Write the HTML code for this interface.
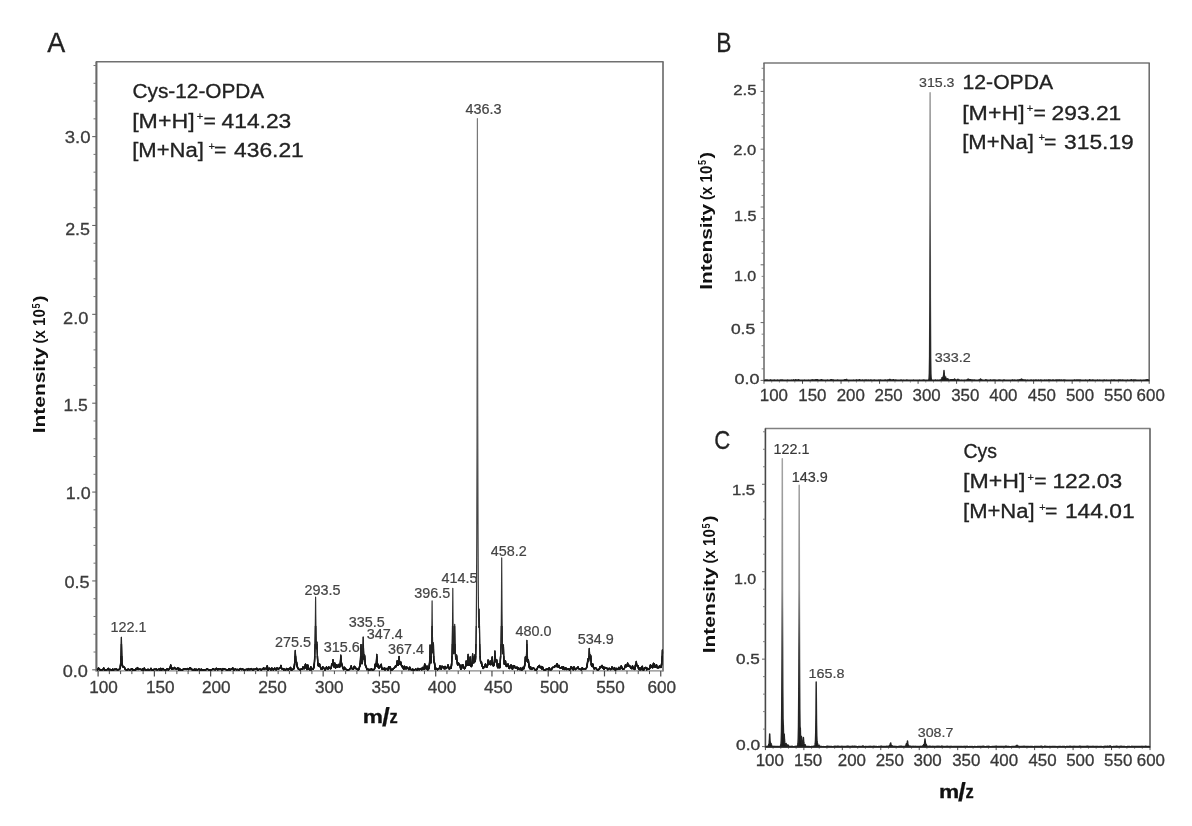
<!DOCTYPE html>
<html lang="en"><head><meta charset="utf-8"><title>Mass spectra</title>
<style>html,body{margin:0;padding:0;background:#fff}svg{display:block}text{white-space:pre}</style>
</head><body>
<svg width="1192" height="826" viewBox="0 0 1192 826" font-family='"Liberation Sans", sans-serif'>
<rect width="1192" height="826" fill="#fff"/>
<line x1="95.80" y1="61.70" x2="663.60" y2="61.70" stroke="#707070" stroke-width="1.6"/>
<line x1="96.40" y1="61.70" x2="96.40" y2="671.50" stroke="#6a6a6a" stroke-width="2.1"/>
<line x1="663.00" y1="61.70" x2="663.00" y2="671.50" stroke="#707070" stroke-width="1.7"/>
<line x1="96.40" y1="670.90" x2="663.00" y2="670.90" stroke="#888" stroke-width="1.1"/>
<line x1="92.20" y1="669.80" x2="96.40" y2="669.80" stroke="#666" stroke-width="1.1"/>
<line x1="93.50" y1="652.03" x2="96.40" y2="652.03" stroke="#777" stroke-width="1.0"/>
<line x1="93.50" y1="634.25" x2="96.40" y2="634.25" stroke="#777" stroke-width="1.0"/>
<line x1="93.50" y1="616.48" x2="96.40" y2="616.48" stroke="#777" stroke-width="1.0"/>
<line x1="93.50" y1="598.71" x2="96.40" y2="598.71" stroke="#777" stroke-width="1.0"/>
<line x1="92.20" y1="580.93" x2="96.40" y2="580.93" stroke="#666" stroke-width="1.1"/>
<line x1="93.50" y1="563.16" x2="96.40" y2="563.16" stroke="#777" stroke-width="1.0"/>
<line x1="93.50" y1="545.39" x2="96.40" y2="545.39" stroke="#777" stroke-width="1.0"/>
<line x1="93.50" y1="527.62" x2="96.40" y2="527.62" stroke="#777" stroke-width="1.0"/>
<line x1="93.50" y1="509.84" x2="96.40" y2="509.84" stroke="#777" stroke-width="1.0"/>
<line x1="92.20" y1="492.07" x2="96.40" y2="492.07" stroke="#666" stroke-width="1.1"/>
<line x1="93.50" y1="474.30" x2="96.40" y2="474.30" stroke="#777" stroke-width="1.0"/>
<line x1="93.50" y1="456.52" x2="96.40" y2="456.52" stroke="#777" stroke-width="1.0"/>
<line x1="93.50" y1="438.75" x2="96.40" y2="438.75" stroke="#777" stroke-width="1.0"/>
<line x1="93.50" y1="420.98" x2="96.40" y2="420.98" stroke="#777" stroke-width="1.0"/>
<line x1="92.20" y1="403.20" x2="96.40" y2="403.20" stroke="#666" stroke-width="1.1"/>
<line x1="93.50" y1="385.43" x2="96.40" y2="385.43" stroke="#777" stroke-width="1.0"/>
<line x1="93.50" y1="367.66" x2="96.40" y2="367.66" stroke="#777" stroke-width="1.0"/>
<line x1="93.50" y1="349.89" x2="96.40" y2="349.89" stroke="#777" stroke-width="1.0"/>
<line x1="93.50" y1="332.11" x2="96.40" y2="332.11" stroke="#777" stroke-width="1.0"/>
<line x1="92.20" y1="314.34" x2="96.40" y2="314.34" stroke="#666" stroke-width="1.1"/>
<line x1="93.50" y1="296.57" x2="96.40" y2="296.57" stroke="#777" stroke-width="1.0"/>
<line x1="93.50" y1="278.79" x2="96.40" y2="278.79" stroke="#777" stroke-width="1.0"/>
<line x1="93.50" y1="261.02" x2="96.40" y2="261.02" stroke="#777" stroke-width="1.0"/>
<line x1="93.50" y1="243.25" x2="96.40" y2="243.25" stroke="#777" stroke-width="1.0"/>
<line x1="92.20" y1="225.47" x2="96.40" y2="225.47" stroke="#666" stroke-width="1.1"/>
<line x1="93.50" y1="207.70" x2="96.40" y2="207.70" stroke="#777" stroke-width="1.0"/>
<line x1="93.50" y1="189.93" x2="96.40" y2="189.93" stroke="#777" stroke-width="1.0"/>
<line x1="93.50" y1="172.16" x2="96.40" y2="172.16" stroke="#777" stroke-width="1.0"/>
<line x1="93.50" y1="154.38" x2="96.40" y2="154.38" stroke="#777" stroke-width="1.0"/>
<line x1="92.20" y1="136.61" x2="96.40" y2="136.61" stroke="#666" stroke-width="1.1"/>
<line x1="93.50" y1="118.84" x2="96.40" y2="118.84" stroke="#777" stroke-width="1.0"/>
<line x1="93.50" y1="101.06" x2="96.40" y2="101.06" stroke="#777" stroke-width="1.0"/>
<line x1="93.50" y1="83.29" x2="96.40" y2="83.29" stroke="#777" stroke-width="1.0"/>
<line x1="93.50" y1="65.52" x2="96.40" y2="65.52" stroke="#777" stroke-width="1.0"/>
<text x="64.8" y="143.2" font-size="16.3" textLength="25.8" lengthAdjust="spacingAndGlyphs" fill="#3c3c3c" stroke="#3c3c3c" stroke-width="0.3">3.0</text>
<text x="65.2" y="234.7" font-size="16.3" textLength="24.8" lengthAdjust="spacingAndGlyphs" fill="#3c3c3c" stroke="#3c3c3c" stroke-width="0.3">2.5</text>
<text x="63.1" y="324.4" font-size="16.3" textLength="25.4" lengthAdjust="spacingAndGlyphs" fill="#3c3c3c" stroke="#3c3c3c" stroke-width="0.3">2.0</text>
<text x="63.4" y="411.1" font-size="16.3" textLength="24.4" lengthAdjust="spacingAndGlyphs" fill="#3c3c3c" stroke="#3c3c3c" stroke-width="0.3">1.5</text>
<text x="65.8" y="499.0" font-size="16.3" textLength="24.8" lengthAdjust="spacingAndGlyphs" fill="#3c3c3c" stroke="#3c3c3c" stroke-width="0.3">1.0</text>
<text x="64.4" y="588.2" font-size="16.3" textLength="25.2" lengthAdjust="spacingAndGlyphs" fill="#3c3c3c" stroke="#3c3c3c" stroke-width="0.3">0.5</text>
<text x="62.7" y="676.6" font-size="16.3" textLength="25.2" lengthAdjust="spacingAndGlyphs" fill="#3c3c3c" stroke="#3c3c3c" stroke-width="0.3">0.0</text>
<line x1="98.10" y1="670.90" x2="98.10" y2="676.40" stroke="#4a4a4a" stroke-width="1.2"/>
<line x1="109.35" y1="670.90" x2="109.35" y2="674.10" stroke="#4a4a4a" stroke-width="1.0"/>
<line x1="120.61" y1="670.90" x2="120.61" y2="674.10" stroke="#4a4a4a" stroke-width="1.0"/>
<line x1="131.86" y1="670.90" x2="131.86" y2="674.10" stroke="#4a4a4a" stroke-width="1.0"/>
<line x1="143.11" y1="670.90" x2="143.11" y2="674.10" stroke="#4a4a4a" stroke-width="1.0"/>
<line x1="154.37" y1="670.90" x2="154.37" y2="676.40" stroke="#4a4a4a" stroke-width="1.2"/>
<line x1="165.62" y1="670.90" x2="165.62" y2="674.10" stroke="#4a4a4a" stroke-width="1.0"/>
<line x1="176.87" y1="670.90" x2="176.87" y2="674.10" stroke="#4a4a4a" stroke-width="1.0"/>
<line x1="188.12" y1="670.90" x2="188.12" y2="674.10" stroke="#4a4a4a" stroke-width="1.0"/>
<line x1="199.38" y1="670.90" x2="199.38" y2="674.10" stroke="#4a4a4a" stroke-width="1.0"/>
<line x1="210.63" y1="670.90" x2="210.63" y2="676.40" stroke="#4a4a4a" stroke-width="1.2"/>
<line x1="221.88" y1="670.90" x2="221.88" y2="674.10" stroke="#4a4a4a" stroke-width="1.0"/>
<line x1="233.14" y1="670.90" x2="233.14" y2="674.10" stroke="#4a4a4a" stroke-width="1.0"/>
<line x1="244.39" y1="670.90" x2="244.39" y2="674.10" stroke="#4a4a4a" stroke-width="1.0"/>
<line x1="255.64" y1="670.90" x2="255.64" y2="674.10" stroke="#4a4a4a" stroke-width="1.0"/>
<line x1="266.89" y1="670.90" x2="266.89" y2="676.40" stroke="#4a4a4a" stroke-width="1.2"/>
<line x1="278.15" y1="670.90" x2="278.15" y2="674.10" stroke="#4a4a4a" stroke-width="1.0"/>
<line x1="289.40" y1="670.90" x2="289.40" y2="674.10" stroke="#4a4a4a" stroke-width="1.0"/>
<line x1="300.65" y1="670.90" x2="300.65" y2="674.10" stroke="#4a4a4a" stroke-width="1.0"/>
<line x1="311.91" y1="670.90" x2="311.91" y2="674.10" stroke="#4a4a4a" stroke-width="1.0"/>
<line x1="323.16" y1="670.90" x2="323.16" y2="676.40" stroke="#4a4a4a" stroke-width="1.2"/>
<line x1="334.41" y1="670.90" x2="334.41" y2="674.10" stroke="#4a4a4a" stroke-width="1.0"/>
<line x1="345.67" y1="670.90" x2="345.67" y2="674.10" stroke="#4a4a4a" stroke-width="1.0"/>
<line x1="356.92" y1="670.90" x2="356.92" y2="674.10" stroke="#4a4a4a" stroke-width="1.0"/>
<line x1="368.17" y1="670.90" x2="368.17" y2="674.10" stroke="#4a4a4a" stroke-width="1.0"/>
<line x1="379.42" y1="670.90" x2="379.42" y2="676.40" stroke="#4a4a4a" stroke-width="1.2"/>
<line x1="390.68" y1="670.90" x2="390.68" y2="674.10" stroke="#4a4a4a" stroke-width="1.0"/>
<line x1="401.93" y1="670.90" x2="401.93" y2="674.10" stroke="#4a4a4a" stroke-width="1.0"/>
<line x1="413.18" y1="670.90" x2="413.18" y2="674.10" stroke="#4a4a4a" stroke-width="1.0"/>
<line x1="424.44" y1="670.90" x2="424.44" y2="674.10" stroke="#4a4a4a" stroke-width="1.0"/>
<line x1="435.69" y1="670.90" x2="435.69" y2="676.40" stroke="#4a4a4a" stroke-width="1.2"/>
<line x1="446.94" y1="670.90" x2="446.94" y2="674.10" stroke="#4a4a4a" stroke-width="1.0"/>
<line x1="458.20" y1="670.90" x2="458.20" y2="674.10" stroke="#4a4a4a" stroke-width="1.0"/>
<line x1="469.45" y1="670.90" x2="469.45" y2="674.10" stroke="#4a4a4a" stroke-width="1.0"/>
<line x1="480.70" y1="670.90" x2="480.70" y2="674.10" stroke="#4a4a4a" stroke-width="1.0"/>
<line x1="491.96" y1="670.90" x2="491.96" y2="676.40" stroke="#4a4a4a" stroke-width="1.2"/>
<line x1="503.21" y1="670.90" x2="503.21" y2="674.10" stroke="#4a4a4a" stroke-width="1.0"/>
<line x1="514.46" y1="670.90" x2="514.46" y2="674.10" stroke="#4a4a4a" stroke-width="1.0"/>
<line x1="525.71" y1="670.90" x2="525.71" y2="674.10" stroke="#4a4a4a" stroke-width="1.0"/>
<line x1="536.97" y1="670.90" x2="536.97" y2="674.10" stroke="#4a4a4a" stroke-width="1.0"/>
<line x1="548.22" y1="670.90" x2="548.22" y2="676.40" stroke="#4a4a4a" stroke-width="1.2"/>
<line x1="559.47" y1="670.90" x2="559.47" y2="674.10" stroke="#4a4a4a" stroke-width="1.0"/>
<line x1="570.73" y1="670.90" x2="570.73" y2="674.10" stroke="#4a4a4a" stroke-width="1.0"/>
<line x1="581.98" y1="670.90" x2="581.98" y2="674.10" stroke="#4a4a4a" stroke-width="1.0"/>
<line x1="593.23" y1="670.90" x2="593.23" y2="674.10" stroke="#4a4a4a" stroke-width="1.0"/>
<line x1="604.49" y1="670.90" x2="604.49" y2="676.40" stroke="#4a4a4a" stroke-width="1.2"/>
<line x1="615.74" y1="670.90" x2="615.74" y2="674.10" stroke="#4a4a4a" stroke-width="1.0"/>
<line x1="626.99" y1="670.90" x2="626.99" y2="674.10" stroke="#4a4a4a" stroke-width="1.0"/>
<line x1="638.24" y1="670.90" x2="638.24" y2="674.10" stroke="#4a4a4a" stroke-width="1.0"/>
<line x1="649.50" y1="670.90" x2="649.50" y2="674.10" stroke="#4a4a4a" stroke-width="1.0"/>
<line x1="660.75" y1="670.90" x2="660.75" y2="676.40" stroke="#4a4a4a" stroke-width="1.2"/>
<text x="89.2" y="692.8" font-size="16.0" textLength="28.6" lengthAdjust="spacingAndGlyphs" fill="#3c3c3c" stroke="#3c3c3c" stroke-width="0.3">100</text>
<text x="145.9" y="692.8" font-size="16.0" textLength="28.6" lengthAdjust="spacingAndGlyphs" fill="#3c3c3c" stroke="#3c3c3c" stroke-width="0.3">150</text>
<text x="201.9" y="692.8" font-size="16.0" textLength="28.6" lengthAdjust="spacingAndGlyphs" fill="#3c3c3c" stroke="#3c3c3c" stroke-width="0.3">200</text>
<text x="258.2" y="692.8" font-size="16.0" textLength="28.6" lengthAdjust="spacingAndGlyphs" fill="#3c3c3c" stroke="#3c3c3c" stroke-width="0.3">250</text>
<text x="315.0" y="692.8" font-size="16.0" textLength="28.6" lengthAdjust="spacingAndGlyphs" fill="#3c3c3c" stroke="#3c3c3c" stroke-width="0.3">300</text>
<text x="371.6" y="692.8" font-size="16.0" textLength="28.6" lengthAdjust="spacingAndGlyphs" fill="#3c3c3c" stroke="#3c3c3c" stroke-width="0.3">350</text>
<text x="427.7" y="692.8" font-size="16.0" textLength="28.6" lengthAdjust="spacingAndGlyphs" fill="#3c3c3c" stroke="#3c3c3c" stroke-width="0.3">400</text>
<text x="484.0" y="692.8" font-size="16.0" textLength="28.6" lengthAdjust="spacingAndGlyphs" fill="#3c3c3c" stroke="#3c3c3c" stroke-width="0.3">450</text>
<text x="540.0" y="692.8" font-size="16.0" textLength="28.6" lengthAdjust="spacingAndGlyphs" fill="#3c3c3c" stroke="#3c3c3c" stroke-width="0.3">500</text>
<text x="596.2" y="692.8" font-size="16.0" textLength="28.6" lengthAdjust="spacingAndGlyphs" fill="#3c3c3c" stroke="#3c3c3c" stroke-width="0.3">550</text>
<text x="647.4" y="692.8" font-size="16.0" textLength="28.6" lengthAdjust="spacingAndGlyphs" fill="#3c3c3c" stroke="#3c3c3c" stroke-width="0.3">600</text>
<text fill="#111" font-weight="bold"><tspan x="362.8" y="722.5" font-size="19" textLength="20.2" lengthAdjust="spacingAndGlyphs" stroke="#111" stroke-width="0.3">m</tspan><tspan x="381.9" y="725.7" font-size="25.5" textLength="7.8" lengthAdjust="spacingAndGlyphs" stroke="#111" stroke-width="0.2">/</tspan><tspan x="389.4" y="722.5" font-size="19" textLength="8.2" lengthAdjust="spacingAndGlyphs" stroke="#111" stroke-width="0.3">z</tspan></text>
<text fill="#111" font-weight="bold" transform="translate(45.4,433.6) rotate(-90)"><tspan x="0.3" y="0.0" font-size="17.4" textLength="86.0" lengthAdjust="spacingAndGlyphs">Intensity</tspan><tspan font-size="4"> </tspan><tspan x="90.2" y="0.0" font-size="17.4" textLength="34.2" lengthAdjust="spacingAndGlyphs">(x 10</tspan><tspan x="125.2" y="-5.6" font-size="10.5" textLength="5.0" lengthAdjust="spacingAndGlyphs">5</tspan><tspan x="131.6" y="0.0" font-size="17.4" textLength="6.6" lengthAdjust="spacingAndGlyphs">)</tspan></text>
<text x="47.2" y="52.3" font-size="28" textLength="18.0" lengthAdjust="spacingAndGlyphs" fill="#222" stroke="#222" stroke-width="0.3">A</text>
<text x="132.6" y="98.3" font-size="20.0" textLength="131.6" lengthAdjust="spacingAndGlyphs" fill="#222" stroke="#222" stroke-width="0.3">Cys-12-OPDA</text>
<text fill="#222"><tspan x="132.2" y="127.7" font-size="20.0" textLength="62.4" lengthAdjust="spacingAndGlyphs" stroke="#222" stroke-width="0.3">[M+H]</tspan><tspan x="196.7" y="120.3" font-size="10" textLength="6.4" lengthAdjust="spacingAndGlyphs" stroke="#222" stroke-width="0.2">+</tspan><tspan x="203.4" y="127.7" font-size="20.0" textLength="12.4" lengthAdjust="spacingAndGlyphs" stroke="#222" stroke-width="0.3">=</tspan><tspan font-size="4"> </tspan><tspan x="221.6" y="127.7" font-size="20.0" textLength="69.7" lengthAdjust="spacingAndGlyphs" stroke="#222" stroke-width="0.3">414.23</tspan></text>
<text fill="#222"><tspan x="132.2" y="157.0" font-size="20.0" textLength="71.7" lengthAdjust="spacingAndGlyphs" stroke="#222" stroke-width="0.3">[M+Na]</tspan><tspan x="208.4" y="149.6" font-size="10" textLength="6.4" lengthAdjust="spacingAndGlyphs" stroke="#222" stroke-width="0.2">+</tspan><tspan x="214.1" y="157.0" font-size="20.0" textLength="12.4" lengthAdjust="spacingAndGlyphs" stroke="#222" stroke-width="0.3">=</tspan><tspan font-size="4"> </tspan><tspan x="234.1" y="157.0" font-size="20.0" textLength="69.7" lengthAdjust="spacingAndGlyphs" stroke="#222" stroke-width="0.3">436.21</tspan></text>
<defs><linearGradient id="gA" gradientUnits="userSpaceOnUse" x1="0" y1="118" x2="0" y2="672"><stop offset="0.000" stop-color="#7a7a7a"/><stop offset="0.599" stop-color="#555"/><stop offset="0.870" stop-color="#333"/><stop offset="0.942" stop-color="#222"/><stop offset="1.000" stop-color="#1c1c1c"/></linearGradient></defs>
<defs><path id="tr7" d="M97.00,669.93 L97.25,669.87 L97.50,669.81 L97.75,669.75 L98.00,669.22 L98.25,668.68 L98.50,668.14 L98.75,668.33 L99.00,668.51 L99.25,668.70 L99.50,669.08 L99.75,669.45 L100.00,669.83 L100.25,669.88 L100.50,669.93 L100.75,669.97 L101.00,669.90 L101.25,669.83 L101.50,669.76 L101.75,669.76 L102.00,669.76 L102.25,669.76 L102.50,669.68 L102.75,669.59 L103.00,669.50 L103.25,669.04 L103.50,668.58 L103.75,668.12 L104.00,668.75 L104.25,669.38 L104.50,670.01 L104.75,669.92 L105.00,669.83 L105.25,669.73 L105.50,669.80 L105.75,669.86 L106.00,669.93 L106.25,669.86 L106.50,669.78 L106.75,669.71 L107.00,669.64 L107.25,669.58 L107.50,669.51 L107.75,669.16 L108.00,668.80 L108.25,668.45 L108.50,668.90 L108.75,669.35 L109.00,669.80 L109.25,669.68 L109.50,669.57 L109.75,669.45 L110.00,669.49 L110.25,669.52 L110.50,669.55 L110.75,669.68 L111.00,669.81 L111.25,669.93 L111.50,669.98 L111.75,670.02 L112.00,670.07 L112.25,669.78 L112.50,669.50 L112.75,669.22 L113.00,669.49 L113.25,669.76 L113.50,670.03 L113.75,669.87 L114.00,669.71 L114.25,669.55 L114.50,669.40 L114.75,669.26 L115.00,669.11 L115.25,669.25 L115.50,669.40 L115.75,669.54 L116.00,669.40 L116.25,669.27 L116.50,669.13 L116.75,669.37 L117.00,669.61 L117.25,669.85 L117.50,669.79 L117.75,669.74 L118.00,669.67 L118.25,669.67 L118.50,669.65 L118.75,669.62 L119.00,669.50 L119.25,669.33 L119.50,669.09 L119.75,668.90 L120.00,668.48 L120.25,667.63 L120.50,665.72 L120.75,662.43 L121.00,656.64 L121.25,646.81 L121.40,637.30 L121.50,644.19 L121.75,655.75 L122.00,661.53 L122.25,664.47 L122.50,665.80 L122.75,666.42 L122.90,666.50 L123.00,666.75 L123.25,667.11 L123.50,667.25 L123.75,667.22 L124.00,667.06 L124.25,667.34 L124.50,667.50 L124.75,668.36 L125.00,668.82 L125.25,669.19 L125.50,669.51 L125.75,669.63 L126.00,669.72 L126.25,669.78 L126.50,669.87 L126.75,669.95 L127.00,670.03 L127.25,669.82 L127.50,669.62 L127.75,669.40 L128.00,669.36 L128.25,669.32 L128.50,669.28 L128.75,669.46 L129.00,669.65 L129.25,669.83 L129.50,669.80 L129.75,669.77 L130.00,669.74 L130.25,669.72 L130.50,669.71 L130.75,669.69 L131.00,669.40 L131.25,669.12 L131.50,668.83 L131.75,668.88 L132.00,668.92 L132.25,668.97 L132.50,669.33 L132.75,669.69 L133.00,670.04 L133.25,669.90 L133.50,669.76 L133.75,669.61 L134.00,669.77 L134.25,669.93 L134.50,670.10 L134.75,670.08 L135.00,670.06 L135.25,670.04 L135.50,669.55 L135.75,669.06 L136.00,668.57 L136.25,668.86 L136.50,669.14 L136.75,669.42 L137.00,668.83 L137.25,668.24 L137.50,667.65 L137.75,668.24 L138.00,668.83 L138.25,669.42 L138.50,669.36 L138.75,669.31 L139.00,669.25 L139.25,669.25 L139.50,669.25 L139.75,669.24 L140.00,669.28 L140.25,669.31 L140.50,669.34 L140.75,669.40 L141.00,669.46 L141.25,669.52 L141.50,669.68 L141.75,669.84 L142.00,670.00 L142.25,669.62 L142.50,669.24 L142.75,668.87 L143.00,669.22 L143.25,669.57 L143.50,669.92 L143.75,669.33 L144.00,668.75 L144.25,668.17 L144.50,668.71 L144.75,669.26 L145.00,669.81 L145.25,669.82 L145.50,669.84 L145.75,669.85 L146.00,669.86 L146.25,669.86 L146.50,669.87 L146.75,669.86 L147.00,669.85 L147.25,669.84 L147.50,669.67 L147.75,669.51 L148.00,669.34 L148.25,669.54 L148.50,669.74 L148.75,669.94 L149.00,669.89 L149.25,669.85 L149.50,669.81 L149.75,669.76 L150.00,669.71 L150.25,669.66 L150.50,669.26 L150.75,668.86 L151.00,668.46 L151.25,668.93 L151.50,669.39 L151.75,669.86 L152.00,669.89 L152.25,669.92 L152.50,669.95 L152.75,669.98 L153.00,670.02 L153.25,670.06 L153.50,669.84 L153.75,669.63 L154.00,669.42 L154.25,669.38 L154.50,669.35 L154.75,669.31 L155.00,669.38 L155.25,669.45 L155.50,669.52 L155.75,669.38 L156.00,669.24 L156.25,669.09 L156.50,669.35 L156.75,669.61 L157.00,669.87 L157.25,669.81 L157.50,669.74 L157.75,669.68 L158.00,669.57 L158.25,669.47 L158.50,669.37 L158.75,669.28 L159.00,669.20 L159.25,669.12 L159.50,669.41 L159.75,669.70 L160.00,669.98 L160.25,669.46 L160.50,668.94 L160.75,668.42 L161.00,668.95 L161.25,669.48 L161.50,670.00 L161.75,669.86 L162.00,669.73 L162.25,669.59 L162.50,669.26 L162.75,668.93 L163.00,668.60 L163.25,668.93 L163.50,669.26 L163.75,669.58 L164.00,669.65 L164.25,669.72 L164.50,669.79 L164.75,669.77 L165.00,669.76 L165.25,669.74 L165.50,669.77 L165.75,669.80 L166.00,669.83 L166.25,669.62 L166.50,669.41 L166.75,669.19 L167.00,669.17 L167.25,669.14 L167.50,669.12 L167.75,669.40 L168.00,669.67 L168.25,669.94 L168.50,669.70 L168.75,669.44 L169.00,669.16 L169.25,668.90 L169.50,668.58 L169.75,668.15 L170.00,667.97 L170.25,667.50 L170.50,666.55 L170.70,665.10 L170.75,665.57 L171.00,667.35 L171.25,668.48 L171.50,668.92 L171.75,669.11 L172.00,669.16 L172.25,668.89 L172.50,668.57 L172.75,668.20 L173.00,668.40 L173.25,668.56 L173.50,668.67 L173.75,668.69 L174.00,668.61 L174.25,668.37 L174.50,667.50 L174.75,668.04 L175.00,668.34 L175.25,668.54 L175.50,668.63 L175.75,668.65 L176.00,668.84 L176.25,669.01 L176.50,669.15 L176.75,668.91 L177.00,668.66 L177.25,668.40 L177.50,668.26 L177.75,668.12 L178.00,667.98 L178.25,668.65 L178.50,669.32 L178.75,669.99 L179.00,669.51 L179.25,669.03 L179.50,668.55 L179.75,668.98 L180.00,669.41 L180.25,669.84 L180.50,669.85 L180.75,669.87 L181.00,669.89 L181.25,669.82 L181.50,669.75 L181.75,669.69 L182.00,669.81 L182.25,669.93 L182.50,670.05 L182.75,669.77 L183.00,669.48 L183.25,669.20 L183.50,669.17 L183.75,669.13 L184.00,669.09 L184.25,669.06 L184.50,669.04 L184.75,669.01 L185.00,668.95 L185.25,668.88 L185.50,668.82 L185.75,668.99 L186.00,669.16 L186.25,669.33 L186.50,669.29 L186.75,669.23 L187.00,669.18 L187.25,668.99 L187.50,668.80 L187.75,668.59 L188.00,668.92 L188.25,669.22 L188.50,669.47 L188.75,669.24 L189.00,668.93 L189.20,668.60 L189.25,668.65 L189.50,668.46 L189.75,668.16 L190.00,667.73 L190.25,667.82 L190.40,667.80 L190.50,668.12 L190.75,668.82 L191.00,668.89 L191.25,668.88 L191.50,668.82 L191.75,669.18 L192.00,669.52 L192.25,669.83 L192.50,669.75 L192.75,669.66 L193.00,669.56 L193.25,669.67 L193.50,669.78 L193.75,669.89 L194.00,669.67 L194.25,669.45 L194.50,669.22 L194.75,669.50 L195.00,669.78 L195.25,670.05 L195.50,669.78 L195.75,669.50 L196.00,669.23 L196.25,669.41 L196.50,669.59 L196.75,669.77 L197.00,669.80 L197.25,669.82 L197.50,669.84 L197.75,669.69 L198.00,669.55 L198.25,669.41 L198.50,669.31 L198.75,669.22 L199.00,669.12 L199.25,669.32 L199.50,669.52 L199.75,669.72 L200.00,669.83 L200.25,669.94 L200.50,670.05 L200.75,669.78 L201.00,669.51 L201.25,669.24 L201.50,669.45 L201.75,669.66 L202.00,669.88 L202.25,669.86 L202.50,669.85 L202.75,669.84 L203.00,669.92 L203.25,670.00 L203.50,670.08 L203.75,670.00 L204.00,669.92 L204.25,669.84 L204.50,669.82 L204.75,669.80 L205.00,669.79 L205.25,669.81 L205.50,669.84 L205.75,669.86 L206.00,669.65 L206.25,669.44 L206.50,669.23 L206.75,669.16 L207.00,669.08 L207.25,669.01 L207.50,669.15 L207.75,669.30 L208.00,669.45 L208.25,669.60 L208.50,669.75 L208.75,669.90 L209.00,669.90 L209.25,669.90 L209.50,669.90 L209.75,669.85 L210.00,669.80 L210.25,669.75 L210.50,669.79 L210.75,669.83 L211.00,669.86 L211.25,669.82 L211.50,669.77 L211.75,669.72 L212.00,669.56 L212.25,669.41 L212.50,669.25 L212.75,669.11 L213.00,668.97 L213.25,668.83 L213.50,669.06 L213.75,669.29 L214.00,669.52 L214.25,669.53 L214.50,669.53 L214.75,669.53 L215.00,669.58 L215.25,669.62 L215.50,669.67 L215.75,669.23 L216.00,668.79 L216.25,668.35 L216.50,668.55 L216.75,668.76 L217.00,668.96 L217.25,669.25 L217.50,669.53 L217.75,669.81 L218.00,669.47 L218.25,669.13 L218.50,668.79 L218.75,668.99 L219.00,669.20 L219.25,669.40 L219.50,669.34 L219.75,669.27 L220.00,669.21 L220.25,669.10 L220.50,668.99 L220.75,668.88 L221.00,669.22 L221.25,669.56 L221.50,669.90 L221.75,669.93 L222.00,669.95 L222.25,669.98 L222.50,669.54 L222.75,669.10 L223.00,668.67 L223.25,668.91 L223.50,669.16 L223.75,669.40 L224.00,669.25 L224.25,669.10 L224.50,668.95 L224.75,669.11 L225.00,669.27 L225.25,669.43 L225.50,669.46 L225.75,669.49 L226.00,669.51 L226.25,669.65 L226.50,669.79 L226.75,669.92 L227.00,669.97 L227.25,670.01 L227.50,670.06 L227.75,669.96 L228.00,669.85 L228.25,669.75 L228.50,669.42 L228.75,669.08 L229.00,668.75 L229.25,669.12 L229.50,669.48 L229.75,669.85 L230.00,669.80 L230.25,669.76 L230.50,669.71 L230.75,669.49 L231.00,669.26 L231.25,669.03 L231.50,668.93 L231.75,668.84 L232.00,668.74 L232.25,668.49 L232.50,668.24 L232.75,667.99 L233.00,668.56 L233.25,669.12 L233.50,669.68 L233.75,669.78 L234.00,669.87 L234.25,669.96 L234.50,669.68 L234.75,669.40 L235.00,669.12 L235.25,669.19 L235.50,669.26 L235.75,669.33 L236.00,669.47 L236.25,669.61 L236.50,669.76 L236.75,669.68 L237.00,669.60 L237.25,669.52 L237.50,669.51 L237.75,669.50 L238.00,669.49 L238.25,669.67 L238.50,669.85 L238.75,670.03 L239.00,669.90 L239.25,669.78 L239.50,669.65 L239.75,669.30 L240.00,668.96 L240.25,668.61 L240.50,668.78 L240.75,668.94 L241.00,669.10 L241.25,669.27 L241.50,669.45 L241.75,669.62 L242.00,669.41 L242.25,669.20 L242.50,668.98 L242.75,669.14 L243.00,669.29 L243.25,669.44 L243.50,669.63 L243.75,669.81 L244.00,670.00 L244.25,669.87 L244.50,669.74 L244.75,669.61 L245.00,669.64 L245.25,669.67 L245.50,669.70 L245.75,669.63 L246.00,669.56 L246.25,669.49 L246.50,669.41 L246.75,669.34 L247.00,669.26 L247.25,669.49 L247.50,669.72 L247.75,669.95 L248.00,669.52 L248.25,669.09 L248.50,668.66 L248.75,668.94 L249.00,669.23 L249.25,669.51 L249.50,669.56 L249.75,669.60 L250.00,669.65 L250.25,669.43 L250.50,669.21 L250.75,669.00 L251.00,668.88 L251.25,668.77 L251.50,668.66 L251.75,669.02 L252.00,669.38 L252.25,669.74 L252.50,669.82 L252.75,669.91 L253.00,670.00 L253.25,669.74 L253.50,669.47 L253.75,669.21 L254.00,669.31 L254.25,669.41 L254.50,669.51 L254.75,669.41 L255.00,669.31 L255.25,669.20 L255.50,669.20 L255.75,669.20 L256.00,669.20 L256.25,668.92 L256.50,668.65 L256.75,668.37 L257.00,668.90 L257.25,669.44 L257.50,669.97 L257.75,669.96 L258.00,669.95 L258.25,669.94 L258.50,669.74 L258.75,669.54 L259.00,669.33 L259.25,669.33 L259.50,669.32 L259.75,669.31 L260.00,669.31 L260.25,669.31 L260.50,669.31 L260.75,669.53 L261.00,669.76 L261.25,669.98 L261.50,669.78 L261.75,669.57 L262.00,669.37 L262.25,669.14 L262.50,668.92 L262.75,668.69 L263.00,668.48 L263.25,668.28 L263.50,668.07 L263.75,668.48 L264.00,668.88 L264.25,669.29 L264.50,668.96 L264.75,668.63 L265.00,668.30 L265.25,668.43 L265.50,668.57 L265.75,668.70 L266.00,668.74 L266.25,668.79 L266.50,668.83 L266.75,667.87 L267.00,666.91 L267.25,665.95 L267.50,667.33 L267.75,668.71 L268.00,670.08 L268.25,669.62 L268.50,669.15 L268.75,668.68 L269.00,668.56 L269.25,668.43 L269.50,668.31 L269.75,668.64 L270.00,668.97 L270.25,669.31 L270.50,669.51 L270.75,669.71 L271.00,669.91 L271.25,669.33 L271.50,668.75 L271.75,668.17 L272.00,668.35 L272.25,668.53 L272.50,668.72 L272.75,669.11 L273.00,669.50 L273.25,669.89 L273.50,669.68 L273.75,669.48 L274.00,669.27 L274.25,668.92 L274.50,668.57 L274.75,668.23 L275.00,668.65 L275.25,669.08 L275.50,669.50 L275.75,669.59 L276.00,669.69 L276.25,669.78 L276.50,669.18 L276.75,668.57 L277.00,667.97 L277.25,668.19 L277.50,668.40 L277.75,668.61 L278.00,668.80 L278.25,668.98 L278.50,669.15 L278.75,668.86 L279.00,668.54 L279.25,668.20 L279.50,668.15 L279.75,668.03 L280.00,667.79 L280.25,667.69 L280.50,667.32 L280.75,666.56 L280.90,665.50 L281.00,666.10 L281.25,667.20 L281.50,667.87 L281.75,668.46 L282.00,668.86 L282.25,669.14 L282.50,669.03 L282.75,668.85 L283.00,668.65 L283.25,669.08 L283.50,669.50 L283.75,669.92 L284.00,669.68 L284.25,669.43 L284.50,669.19 L284.75,669.39 L285.00,669.60 L285.25,669.80 L285.50,669.77 L285.75,669.74 L286.00,669.71 L286.25,669.33 L286.50,668.95 L286.75,668.56 L287.00,668.87 L287.25,669.18 L287.50,669.49 L287.75,669.63 L288.00,669.77 L288.25,669.91 L288.50,669.50 L288.75,669.09 L289.00,668.68 L289.25,668.75 L289.50,668.81 L289.75,668.88 L290.00,668.42 L290.25,667.95 L290.50,667.49 L290.75,668.35 L291.00,669.20 L291.25,670.06 L291.50,669.98 L291.75,669.90 L292.00,669.82 L292.25,669.64 L292.50,669.45 L292.75,669.22 L293.00,669.29 L293.25,669.29 L293.50,669.18 L293.75,668.72 L294.00,668.03 L294.25,666.97 L294.50,664.74 L294.75,661.69 L295.00,657.40 L295.25,651.90 L295.30,650.50 L295.50,655.09 L295.75,658.80 L296.00,661.34 L296.25,662.58 L296.50,662.64 L296.60,662.00 L296.75,663.54 L297.00,665.30 L297.25,666.37 L297.50,667.31 L297.75,667.95 L298.00,668.39 L298.25,668.76 L298.50,669.04 L298.75,669.27 L299.00,669.36 L299.25,669.43 L299.50,669.48 L299.75,669.61 L300.00,669.73 L300.25,669.84 L300.50,669.60 L300.75,669.35 L301.00,669.08 L301.25,669.17 L301.50,669.24 L301.75,669.27 L302.00,669.08 L302.25,668.82 L302.50,668.48 L302.75,667.82 L303.00,667.00 L303.25,667.37 L303.50,667.93 L303.75,668.37 L304.00,668.72 L304.25,668.52 L304.50,668.26 L304.75,667.92 L305.00,666.80 L305.25,665.56 L305.50,664.16 L305.75,664.85 L306.00,665.20 L306.25,667.54 L306.50,668.40 L306.75,669.02 L307.00,669.50 L307.25,668.10 L307.50,666.64 L307.75,665.13 L308.00,666.48 L308.25,667.80 L308.50,669.11 L308.75,669.11 L309.00,669.11 L309.25,669.11 L309.50,669.37 L309.75,669.62 L310.00,669.87 L310.25,668.85 L310.50,667.84 L310.75,666.82 L311.00,667.75 L311.25,668.67 L311.50,669.60 L311.75,669.26 L312.00,668.91 L312.25,668.55 L312.50,668.83 L312.75,669.08 L313.00,669.26 L313.25,668.91 L313.50,668.40 L313.75,667.61 L314.00,666.52 L314.25,664.69 L314.50,661.64 L314.75,655.80 L315.00,646.64 L315.25,632.00 L315.50,609.73 L315.60,597.10 L315.75,614.95 L316.00,634.52 L316.25,644.60 L316.50,648.61 L316.75,647.73 L317.00,642.00 L317.25,651.86 L317.50,657.99 L317.75,661.88 L318.00,664.25 L318.25,665.64 L318.50,665.93 L318.75,665.75 L319.00,665.20 L319.25,664.76 L319.50,664.00 L319.75,665.16 L320.00,666.04 L320.25,666.72 L320.50,667.26 L320.75,667.97 L321.00,668.59 L321.25,669.14 L321.50,669.19 L321.75,669.21 L322.00,669.19 L322.25,668.42 L322.50,667.63 L322.75,666.83 L323.00,667.35 L323.25,667.87 L323.50,668.38 L323.75,668.36 L324.00,668.34 L324.25,668.32 L324.50,668.91 L324.75,669.49 L325.00,670.07 L325.25,669.67 L325.50,669.28 L325.75,668.88 L326.00,668.29 L326.25,667.71 L326.50,667.12 L326.75,667.45 L327.00,667.78 L327.25,668.11 L327.50,668.41 L327.75,668.70 L328.00,669.00 L328.25,668.35 L328.50,667.70 L328.75,667.04 L329.00,667.34 L329.25,667.63 L329.50,667.90 L329.75,668.15 L330.00,668.37 L330.25,668.53 L330.50,668.61 L330.75,668.58 L331.00,668.39 L331.25,667.45 L331.50,666.18 L331.75,664.43 L331.80,664.00 L332.00,664.54 L332.25,664.62 L332.50,664.03 L332.75,662.40 L333.00,659.80 L333.25,661.73 L333.50,664.03 L333.75,665.67 L334.00,666.80 L334.25,665.34 L334.50,663.50 L334.75,663.04 L335.00,664.89 L335.25,666.51 L335.50,667.93 L335.75,667.10 L336.00,666.09 L336.25,664.91 L336.50,665.00 L336.75,666.14 L337.00,667.08 L337.25,667.13 L337.50,667.00 L337.75,666.67 L338.00,666.24 L338.25,665.54 L338.50,664.50 L338.75,665.68 L339.00,666.50 L339.25,667.01 L339.50,667.08 L339.75,666.79 L340.00,666.02 L340.25,664.06 L340.50,661.03 L340.75,656.32 L340.80,655.20 L341.00,658.80 L341.25,661.51 L341.50,662.89 L341.75,664.24 L342.00,664.90 L342.20,665.00 L342.25,665.45 L342.50,666.64 L342.75,667.43 L343.00,667.96 L343.25,668.60 L343.50,669.11 L343.75,669.54 L344.00,668.84 L344.25,668.09 L344.50,667.32 L344.75,667.91 L345.00,668.49 L345.25,669.06 L345.50,669.14 L345.75,669.21 L346.00,669.27 L346.25,669.40 L346.50,669.52 L346.75,669.65 L347.00,669.78 L347.25,669.91 L347.50,670.04 L347.75,669.95 L348.00,669.86 L348.25,669.76 L348.50,669.74 L348.75,669.71 L349.00,669.67 L349.25,669.48 L349.50,669.27 L349.75,669.01 L350.00,668.80 L350.25,668.49 L350.50,668.03 L350.75,667.65 L351.00,666.93 L351.20,666.00 L351.25,666.37 L351.50,667.51 L351.75,668.23 L352.00,668.65 L352.25,668.86 L352.50,668.95 L352.75,668.94 L353.00,669.00 L353.25,669.00 L353.50,668.95 L353.75,668.19 L354.00,667.35 L354.25,666.41 L354.50,666.87 L354.75,667.10 L355.00,667.00 L355.25,667.64 L355.50,667.95 L355.75,668.04 L356.00,668.49 L356.25,668.84 L356.50,669.13 L356.75,669.14 L357.00,669.11 L357.25,669.06 L357.50,669.31 L357.75,669.55 L358.00,669.77 L358.25,669.72 L358.50,669.64 L358.75,669.52 L359.00,668.78 L359.25,667.92 L359.50,666.88 L359.75,666.25 L360.00,665.11 L360.25,663.12 L360.50,659.72 L360.75,654.02 L361.00,644.50 L361.25,653.94 L361.50,659.46 L361.75,662.43 L362.00,663.54 L362.25,663.05 L362.50,660.83 L362.75,656.01 L363.00,647.67 L363.20,637.10 L363.25,640.00 L363.50,650.54 L363.75,656.33 L364.00,658.97 L364.25,658.76 L364.50,656.50 L364.60,655.00 L364.75,657.50 L365.00,661.25 L365.25,663.81 L365.50,665.58 L365.75,666.32 L366.00,666.73 L366.25,666.93 L366.50,667.90 L366.75,668.77 L367.00,669.59 L367.25,669.40 L367.50,669.18 L367.75,668.95 L368.00,669.22 L368.25,669.48 L368.50,669.74 L368.75,669.80 L369.00,669.87 L369.25,669.94 L369.50,669.76 L369.75,669.59 L370.00,669.41 L370.25,669.51 L370.50,669.61 L370.75,669.71 L371.00,669.43 L371.25,669.15 L371.50,668.87 L371.75,669.19 L372.00,669.51 L372.25,669.82 L372.50,669.78 L372.75,669.73 L373.00,669.66 L373.25,669.68 L373.50,669.68 L373.75,669.64 L374.00,669.47 L374.25,669.22 L374.50,668.87 L374.75,667.72 L375.00,666.33 L375.25,664.59 L375.40,664.00 L375.50,664.58 L375.75,665.59 L376.00,665.91 L376.25,663.97 L376.50,660.74 L376.75,655.38 L376.80,654.30 L377.00,659.51 L377.25,663.80 L377.50,666.58 L377.75,666.32 L378.00,665.48 L378.20,664.50 L378.25,664.42 L378.50,665.81 L378.75,666.98 L379.00,668.00 L379.25,667.72 L379.50,667.34 L379.75,666.89 L380.00,666.69 L380.25,666.35 L380.50,665.80 L380.75,665.83 L381.00,665.32 L381.20,664.30 L381.25,664.96 L381.50,666.95 L381.75,668.22 L382.00,669.05 L382.25,669.04 L382.50,668.86 L382.75,668.59 L383.00,668.82 L383.25,669.00 L383.50,669.16 L383.75,668.82 L384.00,668.47 L384.25,668.12 L384.50,668.70 L384.75,669.28 L385.00,669.86 L385.25,669.40 L385.50,668.94 L385.75,668.48 L386.00,668.57 L386.25,668.66 L386.50,668.75 L386.75,668.66 L387.00,668.58 L387.25,668.50 L387.50,669.03 L387.75,669.56 L388.00,670.08 L388.25,668.97 L388.50,667.86 L388.75,666.76 L389.00,667.36 L389.25,667.96 L389.50,668.56 L389.75,668.07 L390.00,667.59 L390.25,667.11 L390.50,668.09 L390.75,669.06 L391.00,670.04 L391.25,669.88 L391.50,669.73 L391.75,669.57 L392.00,669.61 L392.25,669.66 L392.50,669.69 L392.75,669.35 L393.00,668.99 L393.25,668.62 L393.50,668.53 L393.75,668.40 L394.00,668.24 L394.25,668.05 L394.50,667.79 L394.75,667.42 L395.00,667.18 L395.25,666.73 L395.50,666.00 L395.75,666.46 L396.00,666.56 L396.25,666.32 L396.50,665.58 L396.75,664.37 L397.00,662.55 L397.20,660.80 L397.25,661.33 L397.50,663.40 L397.75,664.67 L398.00,665.21 L398.25,665.09 L398.50,664.22 L398.75,661.96 L399.00,658.40 L399.10,656.50 L399.25,658.81 L399.50,661.62 L399.75,663.22 L400.00,663.92 L400.25,664.06 L400.50,663.55 L400.75,662.38 L400.80,662.00 L401.00,663.44 L401.25,664.67 L401.50,665.42 L401.75,666.18 L402.00,666.59 L402.25,666.69 L402.50,666.00 L402.75,666.87 L403.00,667.47 L403.25,668.20 L403.50,668.78 L403.75,669.26 L404.00,668.34 L404.25,667.37 L404.50,666.35 L404.75,666.83 L405.00,667.29 L405.25,667.73 L405.50,668.12 L405.75,668.49 L406.00,668.86 L406.25,668.27 L406.50,667.68 L406.75,667.09 L407.00,667.53 L407.25,667.98 L407.50,668.42 L407.75,668.40 L408.00,668.38 L408.25,668.37 L408.50,668.78 L408.75,669.19 L409.00,669.60 L409.25,668.81 L409.50,668.03 L409.75,667.25 L410.00,667.99 L410.25,668.74 L410.50,669.49 L410.75,669.50 L411.00,669.51 L411.25,669.52 L411.50,669.63 L411.75,669.73 L412.00,669.84 L412.25,669.63 L412.50,669.42 L412.75,669.22 L413.00,669.49 L413.25,669.77 L413.50,670.05 L413.75,670.01 L414.00,669.97 L414.25,669.93 L414.50,669.85 L414.75,669.77 L415.00,669.69 L415.25,669.51 L415.50,669.33 L415.75,669.15 L416.00,669.33 L416.25,669.51 L416.50,669.69 L416.75,669.78 L417.00,669.88 L417.25,669.97 L417.50,669.47 L417.75,668.97 L418.00,668.47 L418.25,668.84 L418.50,669.20 L418.75,669.57 L419.00,669.61 L419.25,669.65 L419.50,669.69 L419.75,669.34 L420.00,668.99 L420.25,668.65 L420.50,668.72 L420.75,668.79 L421.00,668.86 L421.25,669.15 L421.50,669.43 L421.75,669.72 L422.00,668.98 L422.25,668.25 L422.50,667.51 L422.75,667.87 L423.00,668.23 L423.25,668.60 L423.50,668.84 L423.75,669.07 L424.00,669.31 L424.25,667.55 L424.50,665.78 L424.75,664.02 L425.00,665.22 L425.25,666.43 L425.50,667.63 L425.75,668.03 L426.00,668.42 L426.25,668.82 L426.50,667.94 L426.75,667.06 L427.00,666.17 L427.25,667.39 L427.50,668.60 L427.75,669.79 L428.00,669.61 L428.25,669.37 L428.50,669.02 L428.75,668.64 L429.00,667.91 L429.25,666.54 L429.50,663.76 L429.75,658.84 L430.00,650.06 L430.10,645.00 L430.25,652.13 L430.50,659.32 L430.75,662.64 L431.00,662.67 L431.25,659.91 L431.50,653.28 L431.75,640.47 L432.00,615.97 L432.10,600.90 L432.25,621.67 L432.50,641.82 L432.75,650.90 L433.00,652.72 L433.25,648.76 L433.40,642.90 L433.50,648.67 L433.75,658.36 L434.00,661.77 L434.25,662.85 L434.50,662.63 L434.75,665.26 L435.00,667.49 L435.25,669.51 L435.50,669.16 L435.75,668.75 L436.00,668.31 L436.25,668.50 L436.50,668.68 L436.75,668.86 L437.00,669.16 L437.25,669.45 L437.50,669.73 L437.75,669.41 L438.00,669.08 L438.25,668.72 L438.50,668.79 L438.75,668.81 L439.00,668.77 L439.25,668.32 L439.50,667.76 L439.75,667.03 L440.00,666.00 L440.25,666.61 L440.50,667.00 L440.75,667.87 L441.00,668.62 L441.25,669.28 L441.50,668.31 L441.75,667.29 L442.00,666.24 L442.25,666.43 L442.50,666.60 L442.75,666.75 L443.00,666.86 L443.25,666.96 L443.50,667.04 L443.75,667.66 L444.00,668.24 L444.25,668.78 L444.50,668.12 L444.75,667.37 L445.00,666.50 L445.25,667.31 L445.50,667.99 L445.75,668.58 L446.00,668.39 L446.25,668.12 L446.50,667.77 L446.75,667.76 L447.00,667.63 L447.25,667.36 L447.50,666.86 L447.75,666.11 L448.00,665.00 L448.25,666.35 L448.50,667.35 L448.75,668.09 L449.00,668.55 L449.25,668.88 L449.50,669.10 L449.75,668.50 L450.00,667.83 L450.25,667.08 L450.50,667.61 L450.75,667.99 L451.00,668.12 L451.25,666.97 L451.50,665.06 L451.75,661.80 L452.00,656.68 L452.25,647.14 L452.50,629.61 L452.75,597.39 L452.80,588.30 L453.00,618.31 L453.25,639.81 L453.50,649.95 L453.75,653.54 L454.00,652.39 L454.25,647.88 L454.50,637.89 L454.70,624.30 L454.75,628.56 L455.00,643.06 L455.25,651.15 L455.50,655.23 L455.75,658.08 L456.00,659.07 L456.25,658.53 L456.50,656.34 L456.60,655.00 L456.75,657.66 L457.00,660.93 L457.25,662.97 L457.50,664.21 L457.75,664.82 L458.00,664.71 L458.25,664.11 L458.50,663.00 L458.75,663.88 L459.00,664.34 L459.25,664.47 L459.50,664.83 L459.75,665.02 L460.00,665.06 L460.25,666.52 L460.50,667.89 L460.75,669.19 L461.00,669.02 L461.25,668.78 L461.50,668.46 L461.75,667.42 L462.00,666.25 L462.25,664.92 L462.50,665.32 L462.75,665.39 L463.00,665.00 L463.25,666.20 L463.50,666.94 L463.75,667.35 L464.00,667.98 L464.25,668.41 L464.50,668.68 L464.75,668.46 L465.00,668.05 L465.25,667.40 L465.50,666.71 L465.75,665.54 L466.00,663.64 L466.20,661.00 L466.25,661.57 L466.50,663.63 L466.75,664.66 L467.00,665.19 L467.25,664.91 L467.50,663.68 L467.75,661.29 L468.00,656.88 L468.10,654.30 L468.25,658.33 L468.50,662.25 L468.75,664.33 L469.00,665.20 L469.25,665.06 L469.50,664.10 L469.75,662.22 L470.00,660.07 L470.20,657.00 L470.25,658.13 L470.50,662.46 L470.75,664.74 L471.00,666.00 L471.25,666.53 L471.50,666.38 L471.75,665.60 L472.00,663.99 L472.25,661.20 L472.50,656.48 L472.60,653.80 L472.75,657.52 L473.00,660.81 L473.25,662.28 L473.50,662.50 L473.75,662.81 L474.00,662.12 L474.25,660.19 L474.50,657.00 L474.60,655.00 L474.75,658.27 L475.00,661.57 L475.25,661.51 L475.50,659.13 L475.75,653.68 L476.00,643.55 L476.25,625.47 L476.50,593.76 L476.75,538.46 L477.00,442.04 L477.25,273.99 L477.40,118.50 L477.50,228.01 L477.75,415.42 L478.00,522.41 L478.25,581.86 L478.50,613.45 L478.75,627.23 L479.00,627.02 L479.25,613.63 L479.30,609.10 L479.50,629.32 L479.75,644.90 L480.00,653.59 L480.25,658.28 L480.50,661.13 L480.75,662.50 L481.00,662.86 L481.25,662.80 L481.50,662.00 L481.75,664.73 L482.00,665.66 L482.25,666.17 L482.50,666.38 L482.75,667.20 L483.00,667.85 L483.25,668.38 L483.50,668.02 L483.75,667.57 L484.00,667.03 L484.25,666.87 L484.50,666.58 L484.75,666.13 L485.00,665.78 L485.25,665.12 L485.50,664.00 L485.75,665.42 L486.00,666.38 L486.25,666.97 L486.50,667.21 L486.75,667.18 L487.00,666.89 L487.25,666.40 L487.50,665.53 L487.75,664.15 L488.00,661.37 L488.10,660.00 L488.25,661.17 L488.50,662.42 L488.75,663.48 L489.00,663.99 L489.25,664.04 L489.50,664.04 L489.75,663.56 L490.00,662.49 L490.20,661.00 L490.25,661.49 L490.50,663.41 L490.75,664.62 L491.00,664.05 L491.25,662.90 L491.50,661.13 L491.75,660.74 L492.00,659.27 L492.20,657.00 L492.25,658.18 L492.50,661.67 L492.75,663.84 L493.00,665.09 L493.25,665.72 L493.50,665.80 L493.75,665.36 L494.00,665.03 L494.25,663.90 L494.50,661.64 L494.75,655.75 L494.90,651.00 L495.00,653.17 L495.25,656.73 L495.50,659.59 L495.75,661.16 L496.00,661.79 L496.25,662.05 L496.50,661.57 L496.75,660.25 L496.80,660.00 L497.00,662.56 L497.25,665.01 L497.50,666.85 L497.75,667.45 L498.00,667.68 L498.25,667.56 L498.50,666.27 L498.75,664.44 L498.80,664.00 L499.00,664.62 L499.25,666.14 L499.50,667.15 L499.75,667.65 L500.00,665.48 L500.25,662.40 L500.50,657.83 L500.75,653.16 L501.00,644.17 L501.25,627.69 L501.50,597.56 L501.70,557.80 L501.75,569.48 L502.00,611.73 L502.25,635.17 L502.50,647.74 L502.75,653.50 L503.00,653.73 L503.25,649.70 L503.40,645.00 L503.50,648.75 L503.75,656.45 L504.00,661.17 L504.25,664.04 L504.50,664.11 L504.75,663.34 L505.00,661.92 L505.25,661.79 L505.50,661.00 L505.75,663.86 L506.00,665.11 L506.25,665.93 L506.50,666.42 L506.75,666.15 L507.00,665.64 L507.25,664.90 L507.50,664.91 L507.75,664.63 L508.00,664.00 L508.25,665.49 L508.50,666.64 L508.75,667.53 L509.00,668.00 L509.25,668.31 L509.50,668.47 L509.75,667.74 L510.00,666.86 L510.25,665.81 L510.50,665.84 L510.75,665.60 L511.00,665.00 L511.25,666.31 L511.50,667.26 L511.75,667.95 L512.00,668.45 L512.25,668.80 L512.50,669.03 L512.75,668.00 L513.00,666.88 L513.25,665.68 L513.50,666.41 L513.75,667.03 L514.00,667.49 L514.25,666.89 L514.50,666.00 L514.75,666.97 L515.00,667.41 L515.25,667.66 L515.50,667.77 L515.75,667.96 L516.00,668.08 L516.25,668.15 L516.50,667.85 L516.75,667.53 L517.00,667.19 L517.25,667.98 L517.50,668.75 L517.75,669.52 L518.00,668.97 L518.25,668.42 L518.50,667.87 L518.75,668.30 L519.00,668.74 L519.25,669.17 L519.50,669.31 L519.75,669.46 L520.00,669.60 L520.25,669.09 L520.50,668.57 L520.75,668.06 L521.00,668.66 L521.25,669.27 L521.50,669.87 L521.75,669.84 L522.00,669.81 L522.25,669.77 L522.50,669.02 L522.75,668.26 L523.00,667.47 L523.25,667.95 L523.50,668.37 L523.75,668.71 L524.00,668.06 L524.25,667.21 L524.50,666.07 L524.75,664.70 L525.00,662.63 L525.25,659.49 L525.40,657.00 L525.50,658.40 L525.75,660.62 L526.00,661.11 L526.25,659.70 L526.50,655.76 L526.75,647.91 L526.90,640.30 L527.00,645.75 L527.25,654.90 L527.50,659.79 L527.75,661.96 L528.00,662.34 L528.25,661.33 L528.40,660.00 L528.50,661.31 L528.75,663.81 L529.00,665.48 L529.25,666.84 L529.50,667.82 L529.75,668.54 L530.00,668.08 L530.25,667.49 L530.50,666.82 L530.75,667.69 L531.00,668.52 L531.25,669.33 L531.50,669.26 L531.75,669.18 L532.00,669.09 L532.25,668.79 L532.50,668.49 L532.75,668.19 L533.00,668.14 L533.25,668.09 L533.50,668.03 L533.75,668.23 L534.00,668.44 L534.25,668.64 L534.50,669.03 L534.75,669.42 L535.00,669.82 L535.25,669.86 L535.50,669.90 L535.75,669.93 L536.00,669.87 L536.25,669.80 L536.50,669.73 L536.75,669.34 L537.00,668.94 L537.25,668.53 L537.50,667.97 L537.75,667.38 L538.00,666.76 L538.25,666.64 L538.50,666.47 L538.75,666.22 L539.00,665.98 L539.25,665.60 L539.30,665.50 L539.50,665.94 L539.75,666.65 L540.00,667.20 L540.25,667.61 L540.50,667.42 L540.75,667.06 L541.00,666.50 L541.25,667.45 L541.50,668.21 L541.75,668.84 L542.00,668.30 L542.25,667.68 L542.50,667.01 L542.75,667.74 L543.00,668.44 L543.25,669.11 L543.50,669.39 L543.75,669.65 L544.00,669.90 L544.25,669.96 L544.50,670.01 L544.75,670.06 L545.00,669.98 L545.25,669.90 L545.50,669.81 L545.75,669.60 L546.00,669.39 L546.25,669.18 L546.50,669.29 L546.75,669.41 L547.00,669.52 L547.25,669.38 L547.50,669.23 L547.75,669.08 L548.00,669.25 L548.25,669.42 L548.50,669.59 L548.75,669.00 L549.00,668.41 L549.25,667.83 L549.50,668.45 L549.75,669.07 L550.00,669.68 L550.25,669.66 L550.50,669.63 L550.75,669.60 L551.00,669.59 L551.25,669.57 L551.50,669.55 L551.75,669.00 L552.00,668.45 L552.25,667.89 L552.50,667.69 L552.75,667.48 L553.00,667.25 L553.25,667.31 L553.50,667.34 L553.75,667.31 L554.00,667.34 L554.25,667.29 L554.50,667.11 L554.75,666.74 L555.00,666.16 L555.20,665.50 L555.25,665.75 L555.50,666.08 L555.75,666.13 L556.00,665.91 L556.25,666.34 L556.50,666.49 L556.75,666.28 L557.00,664.55 L557.10,663.70 L557.25,664.27 L557.50,664.79 L557.75,665.93 L558.00,666.74 L558.25,667.27 L558.50,666.96 L558.75,666.38 L559.00,665.50 L559.25,666.42 L559.50,667.06 L559.75,667.51 L560.00,667.85 L560.25,668.08 L560.50,668.22 L560.75,668.13 L561.00,667.99 L561.25,667.80 L561.50,667.58 L561.75,667.32 L562.00,667.00 L562.25,667.66 L562.50,668.28 L562.75,668.85 L563.00,668.24 L563.25,667.61 L563.50,666.96 L563.75,667.75 L564.00,668.54 L564.25,669.32 L564.50,669.33 L564.75,669.34 L565.00,669.34 L565.25,668.85 L565.50,668.37 L565.75,667.88 L566.00,668.41 L566.25,668.94 L566.50,669.47 L566.75,669.36 L567.00,669.26 L567.25,669.16 L567.50,669.24 L567.75,669.31 L568.00,669.39 L568.25,669.25 L568.50,669.11 L568.75,668.97 L569.00,669.31 L569.25,669.66 L569.50,670.01 L569.75,669.81 L570.00,669.61 L570.25,669.41 L570.50,668.57 L570.75,667.73 L571.00,666.88 L571.25,667.00 L571.50,667.12 L571.75,667.24 L572.00,667.89 L572.25,668.54 L572.50,669.19 L572.75,669.36 L573.00,669.53 L573.25,669.71 L573.50,668.79 L573.75,667.88 L574.00,666.97 L574.25,667.54 L574.50,668.10 L574.75,668.66 L575.00,668.93 L575.25,669.20 L575.50,669.46 L575.75,669.10 L576.00,668.73 L576.25,668.36 L576.50,668.44 L576.75,668.49 L577.00,668.52 L577.25,668.26 L577.50,667.92 L577.75,667.46 L578.00,667.00 L578.25,667.63 L578.50,668.07 L578.75,668.46 L579.00,668.77 L579.25,669.03 L579.50,669.07 L579.75,669.09 L580.00,669.09 L580.25,669.26 L580.50,669.42 L580.75,669.57 L581.00,669.63 L581.25,669.69 L581.50,669.74 L581.75,669.09 L582.00,668.44 L582.25,667.79 L582.50,668.21 L582.75,668.63 L583.00,669.05 L583.25,668.97 L583.50,668.88 L583.75,668.79 L584.00,668.78 L584.25,668.76 L584.50,668.74 L584.75,668.83 L585.00,668.90 L585.25,668.95 L585.50,668.89 L585.75,668.77 L586.00,668.59 L586.25,668.26 L586.50,667.79 L586.75,667.12 L587.00,666.08 L587.25,664.62 L587.50,662.55 L587.75,659.71 L587.80,659.00 L588.00,660.59 L588.25,661.49 L588.50,661.25 L588.75,659.67 L589.00,656.35 L589.25,650.14 L589.30,648.50 L589.50,653.56 L589.75,657.37 L590.00,657.90 L590.25,657.01 L590.50,655.00 L590.75,655.94 L590.80,656.00 L591.00,659.96 L591.25,664.16 L591.50,665.33 L591.75,666.02 L592.00,666.35 L592.25,665.57 L592.50,664.51 L592.60,664.00 L592.75,663.99 L593.00,665.30 L593.25,666.42 L593.50,667.41 L593.75,667.96 L594.00,668.43 L594.25,668.86 L594.50,668.64 L594.75,668.40 L595.00,668.14 L595.25,668.06 L595.50,667.97 L595.75,667.87 L596.00,668.29 L596.25,668.69 L596.50,669.10 L596.75,669.32 L597.00,669.54 L597.25,669.76 L597.50,669.85 L597.75,669.94 L598.00,670.02 L598.25,669.78 L598.50,669.54 L598.75,669.30 L599.00,669.16 L599.25,669.02 L599.50,668.87 L599.75,668.14 L600.00,667.39 L600.25,666.61 L600.50,666.86 L600.75,667.05 L601.00,667.17 L601.25,667.09 L601.50,666.85 L601.75,666.38 L602.00,665.50 L602.25,666.86 L602.50,667.88 L602.75,667.75 L603.00,667.45 L603.25,667.04 L603.50,667.86 L603.75,668.63 L604.00,669.36 L604.25,668.72 L604.50,668.06 L604.75,667.38 L605.00,667.69 L605.25,667.99 L605.50,668.29 L605.75,668.26 L606.00,668.24 L606.25,668.21 L606.50,668.21 L606.75,668.21 L607.00,668.20 L607.25,668.71 L607.50,669.22 L607.75,669.72 L608.00,669.41 L608.25,669.10 L608.50,668.79 L608.75,668.65 L609.00,668.50 L609.25,668.35 L609.50,668.50 L609.75,668.63 L610.00,668.75 L610.25,669.03 L610.50,669.28 L610.75,669.51 L611.00,669.21 L611.25,668.84 L611.50,668.39 L611.75,667.79 L612.00,667.00 L612.25,667.45 L612.50,668.01 L612.75,668.45 L613.00,668.79 L613.25,668.94 L613.50,669.05 L613.75,669.13 L614.00,668.65 L614.25,668.15 L614.50,667.64 L614.75,668.45 L615.00,669.24 L615.25,670.04 L615.50,669.88 L615.75,669.71 L616.00,669.54 L616.25,669.19 L616.50,668.83 L616.75,668.47 L617.00,668.76 L617.25,669.05 L617.50,669.33 L617.75,669.19 L618.00,669.04 L618.25,668.90 L618.50,668.42 L618.75,667.94 L619.00,667.46 L619.25,668.01 L619.50,668.56 L619.75,669.11 L620.00,668.84 L620.25,668.56 L620.50,668.29 L620.75,667.53 L621.00,666.76 L621.25,665.99 L621.50,666.65 L621.75,667.31 L622.00,667.96 L622.25,668.42 L622.50,668.88 L622.75,669.33 L623.00,669.28 L623.25,669.22 L623.50,669.14 L623.75,668.99 L624.00,668.81 L624.25,668.59 L624.50,668.04 L624.75,667.42 L625.00,666.70 L625.25,665.94 L625.50,665.00 L625.75,665.21 L626.00,665.86 L626.25,666.32 L626.50,666.61 L626.75,666.44 L627.00,666.02 L627.25,665.28 L627.50,663.76 L627.60,663.00 L627.75,663.75 L628.00,664.57 L628.25,665.38 L628.50,665.85 L628.75,666.05 L629.00,666.16 L629.25,665.99 L629.50,665.50 L629.75,666.21 L630.00,666.63 L630.25,666.84 L630.50,667.36 L630.75,667.77 L631.00,668.09 L631.25,668.29 L631.50,668.45 L631.75,668.58 L632.00,667.74 L632.25,666.88 L632.50,666.01 L632.75,666.91 L633.00,667.79 L633.25,668.67 L633.50,668.51 L633.75,668.34 L634.00,668.14 L634.25,668.61 L634.50,669.02 L634.75,669.36 L635.00,668.11 L635.25,666.68 L635.50,665.00 L635.75,664.78 L636.00,663.97 L636.25,662.26 L636.30,661.50 L636.50,663.43 L636.75,664.90 L637.00,665.65 L637.25,666.00 L637.50,665.98 L637.75,665.65 L638.00,666.00 L638.25,667.33 L638.50,668.45 L638.75,668.92 L639.00,669.29 L639.25,669.60 L639.50,669.08 L639.75,668.53 L640.00,667.96 L640.25,668.55 L640.50,669.12 L640.75,669.69 L641.00,669.14 L641.25,668.59 L641.50,668.03 L641.75,667.48 L642.00,666.93 L642.25,666.38 L642.50,667.52 L642.75,668.65 L643.00,669.78 L643.25,669.81 L643.50,669.84 L643.75,669.86 L644.00,669.42 L644.25,668.97 L644.50,668.52 L644.75,668.20 L645.00,667.88 L645.25,667.57 L645.50,667.56 L645.75,667.56 L646.00,667.56 L646.25,668.26 L646.50,668.97 L646.75,669.68 L647.00,669.25 L647.25,668.82 L647.50,668.39 L647.75,668.64 L648.00,668.90 L648.25,669.14 L648.50,669.18 L648.75,669.20 L649.00,669.22 L649.25,668.95 L649.50,668.65 L649.75,668.33 L650.00,667.27 L650.25,666.15 L650.50,664.95 L650.75,665.85 L651.00,666.61 L651.25,667.17 L651.50,666.00 L651.75,666.78 L652.00,667.29 L652.25,667.56 L652.50,667.67 L652.75,667.64 L653.00,666.31 L653.25,664.84 L653.50,663.24 L653.75,663.87 L654.00,664.28 L654.25,664.42 L654.40,664.00 L654.50,664.67 L654.75,666.08 L655.00,667.19 L655.25,666.91 L655.50,666.42 L655.75,665.74 L656.00,665.72 L656.25,665.49 L656.50,665.00 L656.75,666.13 L657.00,667.02 L657.25,667.72 L657.50,667.75 L657.75,667.66 L658.00,667.47 L658.25,667.65 L658.50,667.72 L658.75,667.66 L659.00,667.36 L659.25,666.84 L659.50,666.00 L659.75,666.53 L660.00,666.72 L660.25,666.65 L660.50,667.13 L660.75,667.37 L661.00,667.33 L661.25,666.36 L661.50,664.84 L661.75,662.48 L662.00,659.47 L662.25,654.44 L662.40,650.00 L662.50,653.45" stroke-linejoin="round"/></defs>
<use href="#tr7" fill="none" stroke="url(#gA)" stroke-width="1.2"/>
<clipPath id="clip7_0"><rect x="95.0" y="626.1" width="569.6" height="47.0"/></clipPath>
<use href="#tr7" fill="none" stroke="#262626" stroke-width="1.2" clip-path="url(#clip7_0)"/>
<clipPath id="clip7_1"><rect x="95.0" y="644.1" width="569.6" height="29.0"/></clipPath>
<use href="#tr7" fill="none" stroke="#222" stroke-width="1.32" clip-path="url(#clip7_1)"/>
<clipPath id="clip7_2"><rect x="95.0" y="656.1" width="569.6" height="17.0"/></clipPath>
<use href="#tr7" fill="none" stroke="#1c1c1c" stroke-width="1.45" clip-path="url(#clip7_2)"/>
<clipPath id="clip7_3"><rect x="95.0" y="663.6" width="569.6" height="9.5"/></clipPath>
<use href="#tr7" fill="none" stroke="#151515" stroke-width="1.62" clip-path="url(#clip7_3)"/>
<text x="110.4" y="631.9" font-size="14" textLength="36.0" lengthAdjust="spacingAndGlyphs" fill="#444" stroke="#444" stroke-width="0.2">122.1</text>
<text x="275.1" y="647.2" font-size="14" textLength="36.0" lengthAdjust="spacingAndGlyphs" fill="#444" stroke="#444" stroke-width="0.2">275.5</text>
<text x="304.4" y="594.5" font-size="14" textLength="36.0" lengthAdjust="spacingAndGlyphs" fill="#444" stroke="#444" stroke-width="0.2">293.5</text>
<text x="323.7" y="652.0" font-size="14" textLength="36.0" lengthAdjust="spacingAndGlyphs" fill="#444" stroke="#444" stroke-width="0.2">315.6</text>
<text x="348.7" y="626.6" font-size="14" textLength="36.0" lengthAdjust="spacingAndGlyphs" fill="#444" stroke="#444" stroke-width="0.2">335.5</text>
<text x="366.8" y="638.9" font-size="14" textLength="36.0" lengthAdjust="spacingAndGlyphs" fill="#444" stroke="#444" stroke-width="0.2">347.4</text>
<text x="388.1" y="654.4" font-size="14" textLength="36.0" lengthAdjust="spacingAndGlyphs" fill="#444" stroke="#444" stroke-width="0.2">367.4</text>
<text x="414.3" y="597.5" font-size="14" textLength="36.0" lengthAdjust="spacingAndGlyphs" fill="#444" stroke="#444" stroke-width="0.2">396.5</text>
<text x="441.6" y="582.7" font-size="14" textLength="36.0" lengthAdjust="spacingAndGlyphs" fill="#444" stroke="#444" stroke-width="0.2">414.5</text>
<text x="465.5" y="113.7" font-size="14" textLength="36.0" lengthAdjust="spacingAndGlyphs" fill="#444" stroke="#444" stroke-width="0.2">436.3</text>
<text x="490.7" y="556.4" font-size="14" textLength="36.0" lengthAdjust="spacingAndGlyphs" fill="#444" stroke="#444" stroke-width="0.2">458.2</text>
<text x="515.6" y="635.6" font-size="14" textLength="36.0" lengthAdjust="spacingAndGlyphs" fill="#444" stroke="#444" stroke-width="0.2">480.0</text>
<text x="577.7" y="643.8" font-size="14" textLength="36.0" lengthAdjust="spacingAndGlyphs" fill="#444" stroke="#444" stroke-width="0.2">534.9</text>
<line x1="763.40" y1="63.00" x2="1149.80" y2="63.00" stroke="#777" stroke-width="1.6"/>
<line x1="764.00" y1="63.00" x2="764.00" y2="381.20" stroke="#666" stroke-width="1.5"/>
<line x1="1149.20" y1="63.00" x2="1149.20" y2="381.20" stroke="#686868" stroke-width="1.5"/>
<line x1="764.00" y1="380.60" x2="1149.20" y2="380.60" stroke="#444" stroke-width="1.4"/>
<line x1="760.60" y1="380.40" x2="764.00" y2="380.40" stroke="#666" stroke-width="1.0"/>
<line x1="761.60" y1="368.84" x2="764.00" y2="368.84" stroke="#777" stroke-width="0.9"/>
<line x1="761.60" y1="357.28" x2="764.00" y2="357.28" stroke="#777" stroke-width="0.9"/>
<line x1="761.60" y1="345.72" x2="764.00" y2="345.72" stroke="#777" stroke-width="0.9"/>
<line x1="761.60" y1="334.16" x2="764.00" y2="334.16" stroke="#777" stroke-width="0.9"/>
<line x1="760.60" y1="322.60" x2="764.00" y2="322.60" stroke="#666" stroke-width="1.0"/>
<line x1="761.60" y1="311.04" x2="764.00" y2="311.04" stroke="#777" stroke-width="0.9"/>
<line x1="761.60" y1="299.48" x2="764.00" y2="299.48" stroke="#777" stroke-width="0.9"/>
<line x1="761.60" y1="287.92" x2="764.00" y2="287.92" stroke="#777" stroke-width="0.9"/>
<line x1="761.60" y1="276.36" x2="764.00" y2="276.36" stroke="#777" stroke-width="0.9"/>
<line x1="760.60" y1="264.80" x2="764.00" y2="264.80" stroke="#666" stroke-width="1.0"/>
<line x1="761.60" y1="253.24" x2="764.00" y2="253.24" stroke="#777" stroke-width="0.9"/>
<line x1="761.60" y1="241.68" x2="764.00" y2="241.68" stroke="#777" stroke-width="0.9"/>
<line x1="761.60" y1="230.12" x2="764.00" y2="230.12" stroke="#777" stroke-width="0.9"/>
<line x1="761.60" y1="218.56" x2="764.00" y2="218.56" stroke="#777" stroke-width="0.9"/>
<line x1="760.60" y1="207.00" x2="764.00" y2="207.00" stroke="#666" stroke-width="1.0"/>
<line x1="761.60" y1="195.44" x2="764.00" y2="195.44" stroke="#777" stroke-width="0.9"/>
<line x1="761.60" y1="183.88" x2="764.00" y2="183.88" stroke="#777" stroke-width="0.9"/>
<line x1="761.60" y1="172.32" x2="764.00" y2="172.32" stroke="#777" stroke-width="0.9"/>
<line x1="761.60" y1="160.76" x2="764.00" y2="160.76" stroke="#777" stroke-width="0.9"/>
<line x1="760.60" y1="149.20" x2="764.00" y2="149.20" stroke="#666" stroke-width="1.0"/>
<line x1="761.60" y1="137.64" x2="764.00" y2="137.64" stroke="#777" stroke-width="0.9"/>
<line x1="761.60" y1="126.08" x2="764.00" y2="126.08" stroke="#777" stroke-width="0.9"/>
<line x1="761.60" y1="114.52" x2="764.00" y2="114.52" stroke="#777" stroke-width="0.9"/>
<line x1="761.60" y1="102.96" x2="764.00" y2="102.96" stroke="#777" stroke-width="0.9"/>
<line x1="760.60" y1="91.40" x2="764.00" y2="91.40" stroke="#666" stroke-width="1.0"/>
<line x1="761.60" y1="79.84" x2="764.00" y2="79.84" stroke="#777" stroke-width="0.9"/>
<line x1="761.60" y1="68.28" x2="764.00" y2="68.28" stroke="#777" stroke-width="0.9"/>
<text x="733.3" y="95.0" font-size="14.6" textLength="23.3" lengthAdjust="spacingAndGlyphs" fill="#3a3a3a" stroke="#3a3a3a" stroke-width="0.35">2.5</text>
<text x="733.3" y="155.3" font-size="14.6" textLength="23.0" lengthAdjust="spacingAndGlyphs" fill="#3a3a3a" stroke="#3a3a3a" stroke-width="0.35">2.0</text>
<text x="734.0" y="220.5" font-size="14.6" textLength="22.4" lengthAdjust="spacingAndGlyphs" fill="#3a3a3a" stroke="#3a3a3a" stroke-width="0.35">1.5</text>
<text x="734.0" y="280.8" font-size="14.6" textLength="22.2" lengthAdjust="spacingAndGlyphs" fill="#3a3a3a" stroke="#3a3a3a" stroke-width="0.35">1.0</text>
<text x="730.9" y="333.9" font-size="14.6" textLength="24.2" lengthAdjust="spacingAndGlyphs" fill="#3a3a3a" stroke="#3a3a3a" stroke-width="0.35">0.5</text>
<text x="734.6" y="384.3" font-size="14.6" textLength="25.0" lengthAdjust="spacingAndGlyphs" fill="#3a3a3a" stroke="#3a3a3a" stroke-width="0.35">0.0</text>
<line x1="764.00" y1="380.60" x2="764.00" y2="383.80" stroke="#4a4a4a" stroke-width="1.0"/>
<line x1="771.70" y1="380.60" x2="771.70" y2="382.60" stroke="#777" stroke-width="0.8"/>
<line x1="779.41" y1="380.60" x2="779.41" y2="382.60" stroke="#777" stroke-width="0.8"/>
<line x1="787.11" y1="380.60" x2="787.11" y2="382.60" stroke="#777" stroke-width="0.8"/>
<line x1="794.82" y1="380.60" x2="794.82" y2="382.60" stroke="#777" stroke-width="0.8"/>
<line x1="802.52" y1="380.60" x2="802.52" y2="383.80" stroke="#4a4a4a" stroke-width="1.0"/>
<line x1="810.22" y1="380.60" x2="810.22" y2="382.60" stroke="#777" stroke-width="0.8"/>
<line x1="817.93" y1="380.60" x2="817.93" y2="382.60" stroke="#777" stroke-width="0.8"/>
<line x1="825.63" y1="380.60" x2="825.63" y2="382.60" stroke="#777" stroke-width="0.8"/>
<line x1="833.34" y1="380.60" x2="833.34" y2="382.60" stroke="#777" stroke-width="0.8"/>
<line x1="841.04" y1="380.60" x2="841.04" y2="383.80" stroke="#4a4a4a" stroke-width="1.0"/>
<line x1="848.74" y1="380.60" x2="848.74" y2="382.60" stroke="#777" stroke-width="0.8"/>
<line x1="856.45" y1="380.60" x2="856.45" y2="382.60" stroke="#777" stroke-width="0.8"/>
<line x1="864.15" y1="380.60" x2="864.15" y2="382.60" stroke="#777" stroke-width="0.8"/>
<line x1="871.86" y1="380.60" x2="871.86" y2="382.60" stroke="#777" stroke-width="0.8"/>
<line x1="879.56" y1="380.60" x2="879.56" y2="383.80" stroke="#4a4a4a" stroke-width="1.0"/>
<line x1="887.26" y1="380.60" x2="887.26" y2="382.60" stroke="#777" stroke-width="0.8"/>
<line x1="894.97" y1="380.60" x2="894.97" y2="382.60" stroke="#777" stroke-width="0.8"/>
<line x1="902.67" y1="380.60" x2="902.67" y2="382.60" stroke="#777" stroke-width="0.8"/>
<line x1="910.38" y1="380.60" x2="910.38" y2="382.60" stroke="#777" stroke-width="0.8"/>
<line x1="918.08" y1="380.60" x2="918.08" y2="383.80" stroke="#4a4a4a" stroke-width="1.0"/>
<line x1="925.78" y1="380.60" x2="925.78" y2="382.60" stroke="#777" stroke-width="0.8"/>
<line x1="933.49" y1="380.60" x2="933.49" y2="382.60" stroke="#777" stroke-width="0.8"/>
<line x1="941.19" y1="380.60" x2="941.19" y2="382.60" stroke="#777" stroke-width="0.8"/>
<line x1="948.90" y1="380.60" x2="948.90" y2="382.60" stroke="#777" stroke-width="0.8"/>
<line x1="956.60" y1="380.60" x2="956.60" y2="383.80" stroke="#4a4a4a" stroke-width="1.0"/>
<line x1="964.30" y1="380.60" x2="964.30" y2="382.60" stroke="#777" stroke-width="0.8"/>
<line x1="972.01" y1="380.60" x2="972.01" y2="382.60" stroke="#777" stroke-width="0.8"/>
<line x1="979.71" y1="380.60" x2="979.71" y2="382.60" stroke="#777" stroke-width="0.8"/>
<line x1="987.42" y1="380.60" x2="987.42" y2="382.60" stroke="#777" stroke-width="0.8"/>
<line x1="995.12" y1="380.60" x2="995.12" y2="383.80" stroke="#4a4a4a" stroke-width="1.0"/>
<line x1="1002.82" y1="380.60" x2="1002.82" y2="382.60" stroke="#777" stroke-width="0.8"/>
<line x1="1010.53" y1="380.60" x2="1010.53" y2="382.60" stroke="#777" stroke-width="0.8"/>
<line x1="1018.23" y1="380.60" x2="1018.23" y2="382.60" stroke="#777" stroke-width="0.8"/>
<line x1="1025.94" y1="380.60" x2="1025.94" y2="382.60" stroke="#777" stroke-width="0.8"/>
<line x1="1033.64" y1="380.60" x2="1033.64" y2="383.80" stroke="#4a4a4a" stroke-width="1.0"/>
<line x1="1041.34" y1="380.60" x2="1041.34" y2="382.60" stroke="#777" stroke-width="0.8"/>
<line x1="1049.05" y1="380.60" x2="1049.05" y2="382.60" stroke="#777" stroke-width="0.8"/>
<line x1="1056.75" y1="380.60" x2="1056.75" y2="382.60" stroke="#777" stroke-width="0.8"/>
<line x1="1064.46" y1="380.60" x2="1064.46" y2="382.60" stroke="#777" stroke-width="0.8"/>
<line x1="1072.16" y1="380.60" x2="1072.16" y2="383.80" stroke="#4a4a4a" stroke-width="1.0"/>
<line x1="1079.86" y1="380.60" x2="1079.86" y2="382.60" stroke="#777" stroke-width="0.8"/>
<line x1="1087.57" y1="380.60" x2="1087.57" y2="382.60" stroke="#777" stroke-width="0.8"/>
<line x1="1095.27" y1="380.60" x2="1095.27" y2="382.60" stroke="#777" stroke-width="0.8"/>
<line x1="1102.98" y1="380.60" x2="1102.98" y2="382.60" stroke="#777" stroke-width="0.8"/>
<line x1="1110.68" y1="380.60" x2="1110.68" y2="383.80" stroke="#4a4a4a" stroke-width="1.0"/>
<line x1="1118.38" y1="380.60" x2="1118.38" y2="382.60" stroke="#777" stroke-width="0.8"/>
<line x1="1126.09" y1="380.60" x2="1126.09" y2="382.60" stroke="#777" stroke-width="0.8"/>
<line x1="1133.79" y1="380.60" x2="1133.79" y2="382.60" stroke="#777" stroke-width="0.8"/>
<line x1="1141.50" y1="380.60" x2="1141.50" y2="382.60" stroke="#777" stroke-width="0.8"/>
<line x1="1149.20" y1="380.60" x2="1149.20" y2="383.80" stroke="#4a4a4a" stroke-width="1.0"/>
<text x="759.8" y="400.9" font-size="16.8" textLength="28.2" lengthAdjust="spacingAndGlyphs" fill="#383838" stroke="#383838" stroke-width="0.3">100</text>
<text x="798.3" y="400.9" font-size="16.8" textLength="28.2" lengthAdjust="spacingAndGlyphs" fill="#383838" stroke="#383838" stroke-width="0.3">150</text>
<text x="836.7" y="400.9" font-size="16.8" textLength="28.2" lengthAdjust="spacingAndGlyphs" fill="#383838" stroke="#383838" stroke-width="0.3">200</text>
<text x="874.5" y="400.9" font-size="16.8" textLength="28.2" lengthAdjust="spacingAndGlyphs" fill="#383838" stroke="#383838" stroke-width="0.3">250</text>
<text x="912.5" y="400.9" font-size="16.8" textLength="28.2" lengthAdjust="spacingAndGlyphs" fill="#383838" stroke="#383838" stroke-width="0.3">300</text>
<text x="951.2" y="400.9" font-size="16.8" textLength="28.2" lengthAdjust="spacingAndGlyphs" fill="#383838" stroke="#383838" stroke-width="0.3">350</text>
<text x="989.3" y="400.9" font-size="16.8" textLength="28.2" lengthAdjust="spacingAndGlyphs" fill="#383838" stroke="#383838" stroke-width="0.3">400</text>
<text x="1027.8" y="400.9" font-size="16.8" textLength="28.2" lengthAdjust="spacingAndGlyphs" fill="#383838" stroke="#383838" stroke-width="0.3">450</text>
<text x="1065.9" y="400.9" font-size="16.8" textLength="28.2" lengthAdjust="spacingAndGlyphs" fill="#383838" stroke="#383838" stroke-width="0.3">500</text>
<text x="1104.1" y="400.9" font-size="16.8" textLength="28.2" lengthAdjust="spacingAndGlyphs" fill="#383838" stroke="#383838" stroke-width="0.3">550</text>
<text x="1136.6" y="400.9" font-size="16.8" textLength="28.2" lengthAdjust="spacingAndGlyphs" fill="#383838" stroke="#383838" stroke-width="0.3">600</text>
<text fill="#111" font-weight="bold" transform="translate(711.8,290.1) rotate(-90)"><tspan x="0.3" y="0.0" font-size="17.4" textLength="86.0" lengthAdjust="spacingAndGlyphs">Intensity</tspan><tspan font-size="4"> </tspan><tspan x="90.2" y="0.0" font-size="17.4" textLength="34.2" lengthAdjust="spacingAndGlyphs">(x 10</tspan><tspan x="125.2" y="-5.6" font-size="10.5" textLength="5.0" lengthAdjust="spacingAndGlyphs">5</tspan><tspan x="131.6" y="0.0" font-size="17.4" textLength="6.6" lengthAdjust="spacingAndGlyphs">)</tspan></text>
<text x="716.2" y="52.2" font-size="27" textLength="15.2" lengthAdjust="spacingAndGlyphs" fill="#222" stroke="#222" stroke-width="0.3">B</text>
<text x="962.6" y="89.4" font-size="20.0" textLength="90.5" lengthAdjust="spacingAndGlyphs" fill="#222" stroke="#222" stroke-width="0.3">12-OPDA</text>
<text fill="#222"><tspan x="962.2" y="119.7" font-size="20.0" textLength="62.4" lengthAdjust="spacingAndGlyphs" stroke="#222" stroke-width="0.3">[M+H]</tspan><tspan x="1026.7" y="112.3" font-size="10" textLength="6.4" lengthAdjust="spacingAndGlyphs" stroke="#222" stroke-width="0.2">+</tspan><tspan x="1033.4" y="119.7" font-size="20.0" textLength="12.4" lengthAdjust="spacingAndGlyphs" stroke="#222" stroke-width="0.3">=</tspan><tspan font-size="4"> </tspan><tspan x="1051.6" y="119.7" font-size="20.0" textLength="69.7" lengthAdjust="spacingAndGlyphs" stroke="#222" stroke-width="0.3">293.21</tspan></text>
<text fill="#222"><tspan x="962.2" y="148.6" font-size="20.0" textLength="71.7" lengthAdjust="spacingAndGlyphs" stroke="#222" stroke-width="0.3">[M+Na]</tspan><tspan x="1038.4" y="141.2" font-size="10" textLength="6.4" lengthAdjust="spacingAndGlyphs" stroke="#222" stroke-width="0.2">+</tspan><tspan x="1044.1" y="148.6" font-size="20.0" textLength="12.4" lengthAdjust="spacingAndGlyphs" stroke="#222" stroke-width="0.3">=</tspan><tspan font-size="4"> </tspan><tspan x="1064.1" y="148.6" font-size="20.0" textLength="69.7" lengthAdjust="spacingAndGlyphs" stroke="#222" stroke-width="0.3">315.19</tspan></text>
<defs><linearGradient id="gB" gradientUnits="userSpaceOnUse" x1="0" y1="92" x2="0" y2="382"><stop offset="0.000" stop-color="#9a9a9a"/><stop offset="0.372" stop-color="#7a7a7a"/><stop offset="0.579" stop-color="#4a4a4a"/><stop offset="0.855" stop-color="#2a2a2a"/><stop offset="1.000" stop-color="#222"/></linearGradient></defs>
<defs><path id="tr3" d="M764.60,380.60 L764.60,380.28 L764.85,380.20 L765.10,380.13 L765.35,380.06 L765.60,379.99 L765.85,380.01 L766.10,380.03 L766.35,380.05 L766.60,380.07 L766.85,380.06 L767.10,380.06 L767.35,380.06 L767.60,380.05 L767.85,380.10 L768.10,380.14 L768.35,380.19 L768.60,380.24 L768.85,380.24 L769.10,380.23 L769.35,380.23 L769.60,380.23 L769.85,380.13 L770.10,380.03 L770.35,379.93 L770.60,379.83 L770.85,379.93 L771.10,380.04 L771.35,380.15 L771.60,380.26 L771.85,380.27 L772.10,380.27 L772.35,380.28 L772.60,380.29 L772.85,380.25 L773.10,380.20 L773.35,380.16 L773.60,380.12 L773.85,380.09 L774.10,380.07 L774.35,380.04 L774.60,380.02 L774.85,380.09 L775.10,380.16 L775.35,380.22 L775.60,380.29 L775.85,380.26 L776.10,380.22 L776.35,380.19 L776.60,380.15 L776.85,380.13 L777.10,380.10 L777.35,380.08 L777.60,380.06 L777.85,380.09 L778.10,380.13 L778.35,380.17 L778.60,380.21 L778.85,380.20 L779.10,380.20 L779.35,380.19 L779.60,380.19 L779.85,380.13 L780.10,380.08 L780.35,380.02 L780.60,379.97 L780.85,379.96 L781.10,379.94 L781.35,379.93 L781.60,379.92 L781.85,379.92 L782.10,379.91 L782.35,379.90 L782.60,379.89 L782.85,379.98 L783.10,380.07 L783.35,380.15 L783.60,380.24 L783.85,380.24 L784.10,380.25 L784.35,380.25 L784.60,380.26 L784.85,380.25 L785.10,380.24 L785.35,380.23 L785.60,380.22 L785.85,380.24 L786.10,380.25 L786.35,380.27 L786.60,380.28 L786.85,380.20 L787.10,380.12 L787.35,380.05 L787.60,379.97 L787.85,380.04 L788.10,380.12 L788.35,380.20 L788.60,380.28 L788.85,380.27 L789.10,380.26 L789.35,380.25 L789.60,380.24 L789.85,380.21 L790.10,380.18 L790.35,380.14 L790.60,380.11 L790.85,380.11 L791.10,380.10 L791.35,380.09 L791.60,380.09 L791.85,380.12 L792.10,380.14 L792.35,380.17 L792.60,380.20 L792.85,380.10 L793.10,380.00 L793.35,379.90 L793.60,379.80 L793.85,379.89 L794.10,379.99 L794.35,380.08 L794.60,380.17 L794.85,380.07 L795.10,379.96 L795.35,379.86 L795.60,379.75 L795.85,379.80 L796.10,379.85 L796.35,379.90 L796.60,379.95 L796.85,379.97 L797.10,379.98 L797.35,380.00 L797.60,380.02 L797.85,379.96 L798.10,379.89 L798.35,379.82 L798.60,379.75 L798.85,379.84 L799.10,379.92 L799.35,380.01 L799.60,380.10 L799.85,380.13 L800.10,380.16 L800.35,380.19 L800.60,380.22 L800.85,380.22 L801.10,380.22 L801.35,380.22 L801.60,380.22 L801.85,380.21 L802.10,380.20 L802.35,380.19 L802.60,380.19 L802.85,380.18 L803.10,380.18 L803.35,380.17 L803.60,380.17 L803.85,380.14 L804.10,380.10 L804.35,380.07 L804.60,380.04 L804.85,380.09 L805.10,380.14 L805.35,380.19 L805.60,380.24 L805.85,380.22 L806.10,380.20 L806.35,380.17 L806.60,380.15 L806.85,380.15 L807.10,380.15 L807.35,380.15 L807.60,380.15 L807.85,380.12 L808.10,380.10 L808.35,380.08 L808.60,380.05 L808.85,380.11 L809.10,380.17 L809.35,380.23 L809.60,380.29 L809.85,380.24 L810.10,380.20 L810.35,380.15 L810.60,380.10 L810.85,380.09 L811.10,380.07 L811.35,380.05 L811.60,380.03 L811.85,379.98 L812.10,379.93 L812.35,379.88 L812.60,379.83 L812.85,379.88 L813.10,379.93 L813.35,379.98 L813.60,380.03 L813.85,380.04 L814.10,380.04 L814.35,380.05 L814.60,380.06 L814.85,379.99 L815.10,379.92 L815.35,379.85 L815.60,379.78 L815.85,379.79 L816.10,379.80 L816.35,379.81 L816.60,379.82 L816.85,379.79 L817.10,379.76 L817.35,379.73 L817.60,379.70 L817.85,379.83 L818.10,379.96 L818.35,380.10 L818.60,380.23 L818.85,380.21 L819.10,380.20 L819.35,380.18 L819.60,380.17 L819.85,380.10 L820.10,380.03 L820.35,379.96 L820.60,379.89 L820.85,379.87 L821.10,379.84 L821.35,379.82 L821.60,379.80 L821.85,379.86 L822.10,379.92 L822.35,379.97 L822.60,380.03 L822.85,380.05 L823.10,380.07 L823.35,380.10 L823.60,380.12 L823.85,380.15 L824.10,380.19 L824.35,380.23 L824.60,380.26 L824.85,380.23 L825.10,380.20 L825.35,380.16 L825.60,380.13 L825.85,380.13 L826.10,380.14 L826.35,380.14 L826.60,380.14 L826.85,380.11 L827.10,380.08 L827.35,380.05 L827.60,380.02 L827.85,380.08 L828.10,380.15 L828.35,380.21 L828.60,380.28 L828.85,380.26 L829.10,380.25 L829.35,380.23 L829.60,380.21 L829.85,380.12 L830.10,380.03 L830.35,379.93 L830.60,379.84 L830.85,379.80 L831.10,379.77 L831.35,379.73 L831.60,379.70 L831.85,379.75 L832.10,379.81 L832.35,379.86 L832.60,379.92 L832.85,379.95 L833.10,379.99 L833.35,380.03 L833.60,380.06 L833.85,380.09 L834.10,380.12 L834.35,380.15 L834.60,380.18 L834.85,380.19 L835.10,380.20 L835.35,380.21 L835.60,380.22 L835.85,380.21 L836.10,380.20 L836.35,380.19 L836.60,380.18 L836.85,380.11 L837.10,380.04 L837.35,379.96 L837.60,379.89 L837.85,379.98 L838.10,380.07 L838.35,380.16 L838.60,380.25 L838.85,380.25 L839.10,380.25 L839.35,380.25 L839.60,380.25 L839.85,380.25 L840.10,380.24 L840.35,380.24 L840.60,380.24 L840.85,380.24 L841.10,380.25 L841.35,380.25 L841.60,380.25 L841.85,380.25 L842.10,380.25 L842.35,380.25 L842.60,380.26 L842.85,380.21 L843.10,380.17 L843.35,380.12 L843.60,380.08 L843.85,380.01 L844.10,379.93 L844.35,379.86 L844.60,379.79 L844.85,379.79 L845.10,379.80 L845.35,379.81 L845.60,379.82 L845.85,379.72 L846.10,379.61 L846.35,379.50 L846.60,379.40 L846.85,379.62 L847.10,379.83 L847.35,380.05 L847.60,380.27 L847.85,380.27 L848.10,380.27 L848.35,380.26 L848.60,380.26 L848.85,380.25 L849.10,380.24 L849.35,380.22 L849.60,380.21 L849.85,380.22 L850.10,380.23 L850.35,380.24 L850.60,380.25 L850.85,380.25 L851.10,380.26 L851.35,380.26 L851.60,380.26 L851.85,380.25 L852.10,380.24 L852.35,380.23 L852.60,380.22 L852.85,380.18 L853.10,380.14 L853.35,380.10 L853.60,380.06 L853.85,380.09 L854.10,380.12 L854.35,380.16 L854.60,380.19 L854.85,380.19 L855.10,380.20 L855.35,380.20 L855.60,380.21 L855.85,380.11 L856.10,380.01 L856.35,379.91 L856.60,379.81 L856.85,379.90 L857.10,379.99 L857.35,380.08 L857.60,380.17 L857.85,380.14 L858.10,380.11 L858.35,380.08 L858.60,380.05 L858.85,379.97 L859.10,379.89 L859.35,379.80 L859.60,379.72 L859.85,379.82 L860.10,379.91 L860.35,380.01 L860.60,380.11 L860.85,380.12 L861.10,380.13 L861.35,380.14 L861.60,380.15 L861.85,380.12 L862.10,380.08 L862.35,380.04 L862.60,380.01 L862.85,380.06 L863.10,380.12 L863.35,380.17 L863.60,380.23 L863.85,380.19 L864.10,380.16 L864.35,380.13 L864.60,380.09 L864.85,380.08 L865.10,380.06 L865.35,380.05 L865.60,380.04 L865.85,380.02 L866.10,380.01 L866.35,379.99 L866.60,379.98 L866.85,380.03 L867.10,380.07 L867.35,380.12 L867.60,380.17 L867.85,380.14 L868.10,380.10 L868.35,380.06 L868.60,380.02 L868.85,380.07 L869.10,380.11 L869.35,380.15 L869.60,380.19 L869.85,380.13 L870.10,380.06 L870.35,380.00 L870.60,379.94 L870.85,379.99 L871.10,380.04 L871.35,380.08 L871.60,380.13 L871.85,380.17 L872.10,380.21 L872.35,380.25 L872.60,380.28 L872.85,380.23 L873.10,380.19 L873.35,380.14 L873.60,380.09 L873.85,380.07 L874.10,380.04 L874.35,380.02 L874.60,380.00 L874.85,380.06 L875.10,380.13 L875.35,380.19 L875.60,380.26 L875.85,380.26 L876.10,380.26 L876.35,380.26 L876.60,380.26 L876.85,380.27 L877.10,380.28 L877.35,380.28 L877.60,380.29 L877.85,380.22 L878.10,380.15 L878.35,380.08 L878.60,380.02 L878.85,380.05 L879.10,380.07 L879.35,380.10 L879.60,380.13 L879.85,380.09 L880.10,380.04 L880.35,380.00 L880.60,379.96 L880.85,380.03 L881.10,380.11 L881.35,380.18 L881.60,380.25 L881.85,380.25 L882.10,380.25 L882.35,380.24 L882.60,380.24 L882.85,380.23 L883.10,380.23 L883.35,380.23 L883.60,380.23 L883.85,380.19 L884.10,380.16 L884.35,380.12 L884.60,380.09 L884.85,380.08 L885.10,380.08 L885.35,380.07 L885.60,380.07 L885.85,380.08 L886.10,380.10 L886.35,380.12 L886.60,380.13 L886.85,380.10 L887.10,380.05 L887.35,380.01 L887.60,379.96 L887.85,379.96 L888.10,379.96 L888.35,379.96 L888.60,379.94 L888.85,379.83 L889.10,379.70 L889.35,379.57 L889.60,379.42 L889.85,379.41 L890.00,379.40 L890.10,379.47 L890.35,379.64 L890.60,379.79 L890.85,379.87 L891.10,379.95 L891.35,380.01 L891.60,380.07 L891.85,380.04 L892.10,379.99 L892.35,379.95 L892.60,379.90 L892.85,379.85 L893.10,379.79 L893.35,379.73 L893.60,379.67 L893.85,379.82 L894.10,379.97 L894.35,380.12 L894.60,380.27 L894.85,380.20 L895.10,380.14 L895.35,380.07 L895.60,380.01 L895.85,380.03 L896.10,380.06 L896.35,380.08 L896.60,380.11 L896.85,380.13 L897.10,380.14 L897.35,380.16 L897.60,380.18 L897.85,380.17 L898.10,380.17 L898.35,380.16 L898.60,380.16 L898.85,380.15 L899.10,380.15 L899.35,380.14 L899.60,380.14 L899.85,380.12 L900.10,380.10 L900.35,380.09 L900.60,380.07 L900.85,380.07 L901.10,380.06 L901.35,380.06 L901.60,380.05 L901.85,380.10 L902.10,380.14 L902.35,380.18 L902.60,380.22 L902.85,380.19 L903.10,380.15 L903.35,380.11 L903.60,380.07 L903.85,380.12 L904.10,380.18 L904.35,380.24 L904.60,380.29 L904.85,380.28 L905.10,380.27 L905.35,380.25 L905.60,380.24 L905.85,380.16 L906.10,380.09 L906.35,380.01 L906.60,379.93 L906.85,379.98 L907.10,380.03 L907.35,380.08 L907.60,380.13 L907.85,380.15 L908.10,380.18 L908.35,380.21 L908.60,380.23 L908.85,380.21 L909.10,380.18 L909.35,380.16 L909.60,380.14 L909.85,380.16 L910.10,380.19 L910.35,380.21 L910.60,380.24 L910.85,380.21 L911.10,380.18 L911.35,380.15 L911.60,380.13 L911.85,380.14 L912.10,380.16 L912.35,380.18 L912.60,380.20 L912.85,380.16 L913.10,380.13 L913.35,380.09 L913.60,380.05 L913.85,380.11 L914.10,380.16 L914.35,380.21 L914.60,380.26 L914.85,380.24 L915.10,380.23 L915.35,380.21 L915.60,380.19 L915.85,380.19 L916.10,380.20 L916.35,380.20 L916.60,380.20 L916.85,380.18 L917.10,380.15 L917.35,380.12 L917.60,380.10 L917.85,380.11 L918.10,380.13 L918.35,380.15 L918.60,380.17 L918.85,380.14 L919.10,380.12 L919.35,380.09 L919.60,380.07 L919.85,380.10 L920.10,380.14 L920.35,380.17 L920.60,380.21 L920.85,380.20 L921.10,380.19 L921.35,380.19 L921.60,380.18 L921.85,380.16 L922.10,380.15 L922.35,380.13 L922.60,380.11 L922.85,380.08 L923.10,380.05 L923.35,380.02 L923.60,379.99 L923.85,380.02 L924.10,380.04 L924.35,380.07 L924.60,380.09 L924.85,380.10 L925.10,380.11 L925.35,380.11 L925.60,380.12 L925.85,380.16 L926.10,380.20 L926.35,380.24 L926.60,380.28 L926.85,380.25 L927.10,380.23 L927.35,380.20 L927.60,380.17 L927.85,380.16 L928.10,380.14 L928.35,380.10 L928.60,379.98 L928.85,379.62 L929.10,378.27 L929.35,373.48 L929.60,356.67 L929.85,297.87 L930.10,92.70 L930.35,297.80 L930.60,356.53 L930.85,373.30 L931.10,378.06 L931.35,379.37 L931.60,379.69 L931.85,379.90 L932.10,380.02 L932.35,380.12 L932.60,380.22 L932.85,380.19 L933.10,380.17 L933.35,380.14 L933.60,380.12 L933.85,380.13 L934.10,380.14 L934.35,380.16 L934.60,380.17 L934.85,380.12 L935.10,380.07 L935.35,380.02 L935.60,379.96 L935.85,380.03 L936.10,380.09 L936.35,380.16 L936.60,380.22 L936.85,380.19 L937.10,380.15 L937.35,380.12 L937.60,380.08 L937.85,380.10 L938.10,380.11 L938.35,380.13 L938.60,380.14 L938.85,380.13 L939.10,380.12 L939.35,380.11 L939.60,380.09 L939.85,380.09 L940.10,380.07 L940.35,380.04 L940.60,379.99 L940.85,379.85 L941.10,379.65 L941.35,379.39 L941.60,379.02 L941.85,378.55 L942.10,377.86 L942.20,377.50 L942.35,377.87 L942.60,378.21 L942.85,378.21 L943.10,377.86 L943.35,377.02 L943.60,375.48 L943.85,372.86 L944.00,370.50 L944.10,372.11 L944.35,374.90 L944.60,376.48 L944.85,377.31 L945.10,377.60 L945.35,377.48 L945.60,377.00 L945.85,377.83 L946.10,378.39 L946.35,378.76 L946.60,378.97 L946.85,379.07 L947.10,379.06 L947.35,378.94 L947.50,378.80 L947.60,378.97 L947.85,379.18 L948.10,379.29 L948.35,379.34 L948.60,379.34 L948.85,379.58 L949.10,379.80 L949.35,380.00 L949.60,380.18 L949.85,380.07 L950.10,379.96 L950.35,379.85 L950.60,379.73 L950.85,379.74 L951.10,379.75 L951.35,379.75 L951.60,379.76 L951.85,379.74 L952.10,379.71 L952.35,379.68 L952.60,379.63 L952.85,379.68 L953.10,379.71 L953.35,379.71 L953.60,379.70 L953.85,379.59 L954.10,379.43 L954.35,379.21 L954.60,378.90 L954.85,379.25 L955.10,379.51 L955.35,379.70 L955.60,379.84 L955.85,379.94 L956.10,380.01 L956.35,380.05 L956.60,380.08 L956.85,379.95 L957.10,379.80 L957.35,379.62 L957.60,379.41 L957.85,379.36 L958.00,379.30 L958.10,379.41 L958.35,379.64 L958.60,379.83 L958.85,379.89 L959.10,379.93 L959.35,379.95 L959.60,379.95 L959.85,380.03 L960.10,380.10 L960.35,380.16 L960.60,380.22 L960.85,380.18 L961.10,380.15 L961.35,380.11 L961.60,380.07 L961.85,380.12 L962.10,380.18 L962.35,380.23 L962.60,380.28 L962.85,380.26 L963.10,380.24 L963.35,380.22 L963.60,380.19 L963.85,380.17 L964.10,380.15 L964.35,380.12 L964.60,380.09 L964.85,380.10 L965.10,380.10 L965.35,380.10 L965.60,380.10 L965.85,380.09 L966.10,380.08 L966.35,380.06 L966.60,380.03 L966.85,379.94 L967.10,379.84 L967.35,379.72 L967.60,379.56 L967.85,379.31 L968.10,379.00 L968.35,379.18 L968.60,379.31 L968.85,379.49 L969.10,379.63 L969.35,379.74 L969.60,379.83 L969.85,379.83 L970.10,379.80 L970.35,379.77 L970.60,379.74 L970.85,379.81 L971.10,379.89 L971.35,379.96 L971.60,380.02 L971.85,380.02 L972.10,380.02 L972.35,380.02 L972.60,380.02 L972.85,380.04 L973.10,380.06 L973.35,380.08 L973.60,380.10 L973.85,380.05 L974.10,379.99 L974.35,379.94 L974.60,379.89 L974.85,379.98 L975.10,380.08 L975.35,380.17 L975.60,380.26 L975.85,380.25 L976.10,380.23 L976.35,380.21 L976.60,380.20 L976.85,380.17 L977.10,380.15 L977.35,380.13 L977.60,380.10 L977.85,380.10 L978.10,380.10 L978.35,380.09 L978.60,380.08 L978.85,380.03 L979.10,379.97 L979.35,379.89 L979.60,379.79 L979.85,379.62 L980.10,379.40 L980.35,379.11 L980.50,378.90 L980.60,379.00 L980.85,379.29 L981.10,379.50 L981.35,379.67 L981.60,379.80 L981.85,379.89 L982.10,379.97 L982.35,380.03 L982.60,380.08 L982.85,380.10 L983.10,380.12 L983.35,380.13 L983.60,380.14 L983.85,380.18 L984.10,380.22 L984.35,380.25 L984.60,380.29 L984.85,380.17 L985.10,380.05 L985.35,379.92 L985.60,379.80 L985.85,379.82 L986.10,379.84 L986.35,379.85 L986.60,379.87 L986.85,379.96 L987.10,380.05 L987.35,380.15 L987.60,380.24 L987.85,380.23 L988.10,380.22 L988.35,380.21 L988.60,380.20 L988.85,380.19 L989.10,380.18 L989.35,380.18 L989.60,380.17 L989.85,380.09 L990.10,380.01 L990.35,379.93 L990.60,379.85 L990.85,379.94 L991.10,380.03 L991.35,380.11 L991.60,380.20 L991.85,380.17 L992.10,380.15 L992.35,380.12 L992.60,380.09 L992.85,380.04 L993.10,380.00 L993.35,379.96 L993.60,379.91 L993.85,379.91 L994.10,379.91 L994.35,379.90 L994.60,379.90 L994.85,379.95 L995.10,379.99 L995.35,380.04 L995.60,380.09 L995.85,380.14 L996.10,380.19 L996.35,380.24 L996.60,380.29 L996.85,380.28 L997.10,380.28 L997.35,380.28 L997.60,380.27 L997.85,380.19 L998.10,380.11 L998.35,380.04 L998.60,379.96 L998.85,379.95 L999.10,379.95 L999.35,379.94 L999.60,379.94 L999.85,379.98 L1000.10,380.03 L1000.35,380.07 L1000.60,380.11 L1000.85,380.14 L1001.10,380.17 L1001.35,380.21 L1001.60,380.24 L1001.85,380.25 L1002.10,380.25 L1002.35,380.26 L1002.60,380.26 L1002.85,380.20 L1003.10,380.13 L1003.35,380.06 L1003.60,380.00 L1003.85,380.01 L1004.10,380.02 L1004.35,380.04 L1004.60,380.05 L1004.85,380.08 L1005.10,380.11 L1005.35,380.14 L1005.60,380.17 L1005.85,380.20 L1006.10,380.23 L1006.35,380.27 L1006.60,380.30 L1006.85,380.29 L1007.10,380.29 L1007.35,380.29 L1007.60,380.29 L1007.85,380.26 L1008.10,380.23 L1008.35,380.20 L1008.60,380.18 L1008.85,380.20 L1009.10,380.22 L1009.35,380.24 L1009.60,380.26 L1009.85,380.25 L1010.10,380.24 L1010.35,380.24 L1010.60,380.23 L1010.85,380.23 L1011.10,380.23 L1011.35,380.23 L1011.60,380.23 L1011.85,380.13 L1012.10,380.02 L1012.35,379.92 L1012.60,379.81 L1012.85,379.92 L1013.10,380.02 L1013.35,380.12 L1013.60,380.22 L1013.85,380.18 L1014.10,380.13 L1014.35,380.09 L1014.60,380.04 L1014.85,380.07 L1015.10,380.09 L1015.35,380.12 L1015.60,380.14 L1015.85,380.15 L1016.10,380.17 L1016.35,380.18 L1016.60,380.19 L1016.85,380.16 L1017.10,380.13 L1017.35,380.09 L1017.60,380.06 L1017.85,380.05 L1018.10,380.03 L1018.35,380.01 L1018.60,379.99 L1018.85,379.95 L1019.10,379.90 L1019.35,379.85 L1019.60,379.79 L1019.85,379.76 L1020.10,379.72 L1020.35,379.66 L1020.60,379.59 L1020.85,379.49 L1021.10,379.36 L1021.35,379.20 L1021.60,379.00 L1021.85,379.23 L1022.10,379.42 L1022.35,379.58 L1022.60,379.71 L1022.85,379.77 L1023.10,379.82 L1023.35,379.85 L1023.60,379.87 L1023.85,379.91 L1024.10,379.94 L1024.35,379.96 L1024.60,379.98 L1024.85,380.00 L1025.10,380.01 L1025.35,380.02 L1025.60,380.03 L1025.85,380.09 L1026.10,380.13 L1026.35,380.18 L1026.60,380.23 L1026.85,380.19 L1027.10,380.14 L1027.35,380.10 L1027.60,380.05 L1027.85,380.08 L1028.10,380.11 L1028.35,380.13 L1028.60,380.16 L1028.85,380.18 L1029.10,380.19 L1029.35,380.21 L1029.60,380.22 L1029.85,380.18 L1030.10,380.14 L1030.35,380.10 L1030.60,380.06 L1030.85,380.06 L1031.10,380.06 L1031.35,380.06 L1031.60,380.06 L1031.85,380.10 L1032.10,380.15 L1032.35,380.20 L1032.60,380.25 L1032.85,380.20 L1033.10,380.16 L1033.35,380.11 L1033.60,380.06 L1033.85,380.09 L1034.10,380.13 L1034.35,380.16 L1034.60,380.19 L1034.85,380.13 L1035.10,380.08 L1035.35,380.02 L1035.60,379.97 L1035.85,380.00 L1036.10,380.02 L1036.35,380.05 L1036.60,380.08 L1036.85,380.11 L1037.10,380.14 L1037.35,380.17 L1037.60,380.20 L1037.85,380.13 L1038.10,380.06 L1038.35,379.98 L1038.60,379.91 L1038.85,380.01 L1039.10,380.10 L1039.35,380.20 L1039.60,380.29 L1039.85,380.21 L1040.10,380.13 L1040.35,380.04 L1040.60,379.96 L1040.85,380.00 L1041.10,380.04 L1041.35,380.08 L1041.60,380.12 L1041.85,380.12 L1042.10,380.12 L1042.35,380.12 L1042.60,380.12 L1042.85,380.15 L1043.10,380.19 L1043.35,380.22 L1043.60,380.25 L1043.85,380.17 L1044.10,380.09 L1044.35,380.01 L1044.60,379.92 L1044.85,380.00 L1045.10,380.07 L1045.35,380.14 L1045.60,380.21 L1045.85,380.18 L1046.10,380.14 L1046.35,380.10 L1046.60,380.06 L1046.85,380.09 L1047.10,380.12 L1047.35,380.16 L1047.60,380.19 L1047.85,380.10 L1048.10,380.01 L1048.35,379.93 L1048.60,379.84 L1048.85,379.90 L1049.10,379.95 L1049.35,380.01 L1049.60,380.07 L1049.85,380.07 L1050.10,380.07 L1050.35,380.07 L1050.60,380.08 L1050.85,380.11 L1051.10,380.14 L1051.35,380.17 L1051.60,380.21 L1051.85,380.14 L1052.10,380.08 L1052.35,380.01 L1052.60,379.95 L1052.85,379.97 L1053.10,379.99 L1053.35,380.01 L1053.60,380.04 L1053.85,380.10 L1054.10,380.16 L1054.35,380.22 L1054.60,380.28 L1054.85,380.21 L1055.10,380.15 L1055.35,380.09 L1055.60,380.02 L1055.85,380.01 L1056.10,380.00 L1056.35,379.98 L1056.60,379.97 L1056.85,379.97 L1057.10,379.98 L1057.35,379.98 L1057.60,379.98 L1057.85,379.99 L1058.10,380.00 L1058.35,380.01 L1058.60,380.03 L1058.85,379.98 L1059.10,379.94 L1059.35,379.90 L1059.60,379.85 L1059.85,379.94 L1060.10,380.03 L1060.35,380.12 L1060.60,380.20 L1060.85,380.14 L1061.10,380.07 L1061.35,380.01 L1061.60,379.94 L1061.85,380.02 L1062.10,380.10 L1062.35,380.19 L1062.60,380.27 L1062.85,380.20 L1063.10,380.12 L1063.35,380.05 L1063.60,379.98 L1063.85,379.99 L1064.10,380.01 L1064.35,380.02 L1064.60,380.03 L1064.85,380.05 L1065.10,380.07 L1065.35,380.08 L1065.60,380.10 L1065.85,380.11 L1066.10,380.13 L1066.35,380.15 L1066.60,380.16 L1066.85,380.19 L1067.10,380.23 L1067.35,380.26 L1067.60,380.30 L1067.85,380.29 L1068.10,380.29 L1068.35,380.29 L1068.60,380.29 L1068.85,380.27 L1069.10,380.26 L1069.35,380.24 L1069.60,380.23 L1069.85,380.22 L1070.10,380.21 L1070.35,380.21 L1070.60,380.20 L1070.85,380.21 L1071.10,380.22 L1071.35,380.23 L1071.60,380.24 L1071.85,380.22 L1072.10,380.21 L1072.35,380.20 L1072.60,380.19 L1072.85,380.19 L1073.10,380.19 L1073.35,380.19 L1073.60,380.19 L1073.85,380.10 L1074.10,380.01 L1074.35,379.92 L1074.60,379.83 L1074.85,379.93 L1075.10,380.03 L1075.35,380.13 L1075.60,380.23 L1075.85,380.16 L1076.10,380.09 L1076.35,380.02 L1076.60,379.95 L1076.85,379.96 L1077.10,379.96 L1077.35,379.96 L1077.60,379.97 L1077.85,380.00 L1078.10,380.02 L1078.35,380.05 L1078.60,380.08 L1078.85,380.03 L1079.10,379.98 L1079.35,379.93 L1079.60,379.88 L1079.85,379.91 L1080.10,379.93 L1080.35,379.96 L1080.60,379.99 L1080.85,380.04 L1081.10,380.09 L1081.35,380.15 L1081.60,380.20 L1081.85,380.22 L1082.10,380.24 L1082.35,380.26 L1082.60,380.28 L1082.85,380.27 L1083.10,380.26 L1083.35,380.25 L1083.60,380.24 L1083.85,380.24 L1084.10,380.25 L1084.35,380.26 L1084.60,380.27 L1084.85,380.20 L1085.10,380.13 L1085.35,380.07 L1085.60,380.00 L1085.85,380.07 L1086.10,380.14 L1086.35,380.21 L1086.60,380.27 L1086.85,380.25 L1087.10,380.23 L1087.35,380.21 L1087.60,380.18 L1087.85,380.21 L1088.10,380.24 L1088.35,380.27 L1088.60,380.30 L1088.85,380.15 L1089.10,380.01 L1089.35,379.86 L1089.60,379.72 L1089.85,379.81 L1090.10,379.91 L1090.35,380.00 L1090.60,380.09 L1090.85,380.13 L1091.10,380.16 L1091.35,380.19 L1091.60,380.22 L1091.85,380.13 L1092.10,380.04 L1092.35,379.96 L1092.60,379.87 L1092.85,379.93 L1093.10,379.99 L1093.35,380.05 L1093.60,380.12 L1093.85,380.16 L1094.10,380.20 L1094.35,380.25 L1094.60,380.29 L1094.85,380.25 L1095.10,380.22 L1095.35,380.18 L1095.60,380.14 L1095.85,380.18 L1096.10,380.22 L1096.35,380.26 L1096.60,380.30 L1096.85,380.21 L1097.10,380.13 L1097.35,380.04 L1097.60,379.95 L1097.85,380.04 L1098.10,380.12 L1098.35,380.21 L1098.60,380.29 L1098.85,380.23 L1099.10,380.17 L1099.35,380.11 L1099.60,380.05 L1099.85,380.07 L1100.10,380.09 L1100.35,380.11 L1100.60,380.13 L1100.85,380.13 L1101.10,380.12 L1101.35,380.12 L1101.60,380.11 L1101.85,380.12 L1102.10,380.13 L1102.35,380.14 L1102.60,380.15 L1102.85,380.13 L1103.10,380.12 L1103.35,380.10 L1103.60,380.09 L1103.85,380.08 L1104.10,380.07 L1104.35,380.06 L1104.60,380.04 L1104.85,380.07 L1105.10,380.10 L1105.35,380.13 L1105.60,380.15 L1105.85,380.13 L1106.10,380.10 L1106.35,380.07 L1106.60,380.05 L1106.85,380.10 L1107.10,380.15 L1107.35,380.20 L1107.60,380.26 L1107.85,380.27 L1108.10,380.28 L1108.35,380.29 L1108.60,380.30 L1108.85,380.26 L1109.10,380.22 L1109.35,380.19 L1109.60,380.15 L1109.85,380.15 L1110.10,380.15 L1110.35,380.15 L1110.60,380.15 L1110.85,380.09 L1111.10,380.03 L1111.35,379.97 L1111.60,379.91 L1111.85,379.97 L1112.10,380.03 L1112.35,380.10 L1112.60,380.16 L1112.85,380.13 L1113.10,380.10 L1113.35,380.06 L1113.60,380.03 L1113.85,380.01 L1114.10,379.99 L1114.35,379.97 L1114.60,379.94 L1114.85,380.02 L1115.10,380.10 L1115.35,380.18 L1115.60,380.26 L1115.85,380.24 L1116.10,380.22 L1116.35,380.21 L1116.60,380.19 L1116.85,380.19 L1117.10,380.20 L1117.35,380.21 L1117.60,380.21 L1117.85,380.15 L1118.10,380.09 L1118.35,380.02 L1118.60,379.96 L1118.85,379.98 L1119.10,380.01 L1119.35,380.04 L1119.60,380.06 L1119.85,380.06 L1120.10,380.05 L1120.35,380.05 L1120.60,380.04 L1120.85,380.07 L1121.10,380.09 L1121.35,380.12 L1121.60,380.15 L1121.85,380.09 L1122.10,380.04 L1122.35,379.98 L1122.60,379.93 L1122.85,379.99 L1123.10,380.04 L1123.35,380.10 L1123.60,380.16 L1123.85,380.18 L1124.10,380.19 L1124.35,380.21 L1124.60,380.22 L1124.85,380.20 L1125.10,380.17 L1125.35,380.14 L1125.60,380.12 L1125.85,380.14 L1126.10,380.16 L1126.35,380.18 L1126.60,380.20 L1126.85,380.14 L1127.10,380.09 L1127.35,380.04 L1127.60,379.98 L1127.85,380.05 L1128.10,380.11 L1128.35,380.17 L1128.60,380.23 L1128.85,380.20 L1129.10,380.18 L1129.35,380.16 L1129.60,380.13 L1129.85,380.12 L1130.10,380.10 L1130.35,380.09 L1130.60,380.08 L1130.85,379.99 L1131.10,379.90 L1131.35,379.81 L1131.60,379.72 L1131.85,379.84 L1132.10,379.96 L1132.35,380.07 L1132.60,380.19 L1132.85,380.12 L1133.10,380.06 L1133.35,379.99 L1133.60,379.93 L1133.85,379.91 L1134.10,379.90 L1134.35,379.89 L1134.60,379.88 L1134.85,379.92 L1135.10,379.96 L1135.35,380.00 L1135.60,380.05 L1135.85,380.07 L1136.10,380.09 L1136.35,380.11 L1136.60,380.13 L1136.85,380.15 L1137.10,380.17 L1137.35,380.18 L1137.60,380.20 L1137.85,380.22 L1138.10,380.24 L1138.35,380.27 L1138.60,380.29 L1138.85,380.28 L1139.10,380.27 L1139.35,380.26 L1139.60,380.25 L1139.85,380.20 L1140.10,380.15 L1140.35,380.10 L1140.60,380.06 L1140.85,380.11 L1141.10,380.16 L1141.35,380.22 L1141.60,380.27 L1141.85,380.25 L1142.10,380.23 L1142.35,380.21 L1142.60,380.19 L1142.85,380.16 L1143.10,380.14 L1143.35,380.12 L1143.60,380.09 L1143.85,380.10 L1144.10,380.10 L1144.35,380.11 L1144.60,380.11 L1144.85,380.06 L1145.10,380.01 L1145.35,379.96 L1145.60,379.91 L1145.85,379.89 L1146.10,379.87 L1146.35,379.85 L1146.60,379.82 L1146.85,379.79 L1147.10,379.76 L1147.35,379.73 L1147.60,379.70 L1147.85,379.76 L1148.10,379.83 L1148.35,379.90 L1148.60,379.96 L1148.60,380.60 Z" stroke-linejoin="round"/></defs>
<use href="#tr3" fill="#1a1a1a" stroke="url(#gB)" stroke-width="1.45"/>
<text x="919.0" y="87.1" font-size="13.5" textLength="35.5" lengthAdjust="spacingAndGlyphs" fill="#444" stroke="#444" stroke-width="0.2">315.3</text>
<text x="934.7" y="361.6" font-size="13.5" textLength="36.0" lengthAdjust="spacingAndGlyphs" fill="#444" stroke="#444" stroke-width="0.2">333.2</text>
<line x1="764.90" y1="428.50" x2="1150.50" y2="428.50" stroke="#808080" stroke-width="1.4"/>
<line x1="765.40" y1="428.50" x2="765.40" y2="747.50" stroke="#484848" stroke-width="1.6"/>
<line x1="1150.00" y1="428.50" x2="1150.00" y2="747.50" stroke="#606060" stroke-width="1.6"/>
<line x1="765.40" y1="746.90" x2="1150.00" y2="746.90" stroke="#444" stroke-width="1.4"/>
<line x1="762.00" y1="746.60" x2="765.40" y2="746.60" stroke="#666" stroke-width="1.0"/>
<line x1="763.00" y1="729.11" x2="765.40" y2="729.11" stroke="#777" stroke-width="0.9"/>
<line x1="763.00" y1="711.62" x2="765.40" y2="711.62" stroke="#777" stroke-width="0.9"/>
<line x1="763.00" y1="694.13" x2="765.40" y2="694.13" stroke="#777" stroke-width="0.9"/>
<line x1="763.00" y1="676.64" x2="765.40" y2="676.64" stroke="#777" stroke-width="0.9"/>
<line x1="762.00" y1="659.15" x2="765.40" y2="659.15" stroke="#666" stroke-width="1.0"/>
<line x1="763.00" y1="641.66" x2="765.40" y2="641.66" stroke="#777" stroke-width="0.9"/>
<line x1="763.00" y1="624.17" x2="765.40" y2="624.17" stroke="#777" stroke-width="0.9"/>
<line x1="763.00" y1="606.68" x2="765.40" y2="606.68" stroke="#777" stroke-width="0.9"/>
<line x1="763.00" y1="589.19" x2="765.40" y2="589.19" stroke="#777" stroke-width="0.9"/>
<line x1="762.00" y1="571.70" x2="765.40" y2="571.70" stroke="#666" stroke-width="1.0"/>
<line x1="763.00" y1="554.21" x2="765.40" y2="554.21" stroke="#777" stroke-width="0.9"/>
<line x1="763.00" y1="536.72" x2="765.40" y2="536.72" stroke="#777" stroke-width="0.9"/>
<line x1="763.00" y1="519.23" x2="765.40" y2="519.23" stroke="#777" stroke-width="0.9"/>
<line x1="763.00" y1="501.74" x2="765.40" y2="501.74" stroke="#777" stroke-width="0.9"/>
<line x1="762.00" y1="484.25" x2="765.40" y2="484.25" stroke="#666" stroke-width="1.0"/>
<line x1="763.00" y1="466.76" x2="765.40" y2="466.76" stroke="#777" stroke-width="0.9"/>
<line x1="763.00" y1="449.27" x2="765.40" y2="449.27" stroke="#777" stroke-width="0.9"/>
<line x1="763.00" y1="431.78" x2="765.40" y2="431.78" stroke="#777" stroke-width="0.9"/>
<text x="731.9" y="494.5" font-size="14.6" textLength="23.2" lengthAdjust="spacingAndGlyphs" fill="#3a3a3a" stroke="#3a3a3a" stroke-width="0.35">1.5</text>
<text x="734.0" y="583.6" font-size="14.6" textLength="22.2" lengthAdjust="spacingAndGlyphs" fill="#3a3a3a" stroke="#3a3a3a" stroke-width="0.35">1.0</text>
<text x="736.0" y="664.2" font-size="14.6" textLength="23.8" lengthAdjust="spacingAndGlyphs" fill="#3a3a3a" stroke="#3a3a3a" stroke-width="0.35">0.5</text>
<text x="736.0" y="749.6" font-size="14.6" textLength="24.2" lengthAdjust="spacingAndGlyphs" fill="#3a3a3a" stroke="#3a3a3a" stroke-width="0.35">0.0</text>
<line x1="765.40" y1="746.90" x2="765.40" y2="750.10" stroke="#4a4a4a" stroke-width="1.0"/>
<line x1="773.09" y1="746.90" x2="773.09" y2="748.90" stroke="#777" stroke-width="0.8"/>
<line x1="780.78" y1="746.90" x2="780.78" y2="748.90" stroke="#777" stroke-width="0.8"/>
<line x1="788.48" y1="746.90" x2="788.48" y2="748.90" stroke="#777" stroke-width="0.8"/>
<line x1="796.17" y1="746.90" x2="796.17" y2="748.90" stroke="#777" stroke-width="0.8"/>
<line x1="803.86" y1="746.90" x2="803.86" y2="750.10" stroke="#4a4a4a" stroke-width="1.0"/>
<line x1="811.55" y1="746.90" x2="811.55" y2="748.90" stroke="#777" stroke-width="0.8"/>
<line x1="819.24" y1="746.90" x2="819.24" y2="748.90" stroke="#777" stroke-width="0.8"/>
<line x1="826.94" y1="746.90" x2="826.94" y2="748.90" stroke="#777" stroke-width="0.8"/>
<line x1="834.63" y1="746.90" x2="834.63" y2="748.90" stroke="#777" stroke-width="0.8"/>
<line x1="842.32" y1="746.90" x2="842.32" y2="750.10" stroke="#4a4a4a" stroke-width="1.0"/>
<line x1="850.01" y1="746.90" x2="850.01" y2="748.90" stroke="#777" stroke-width="0.8"/>
<line x1="857.70" y1="746.90" x2="857.70" y2="748.90" stroke="#777" stroke-width="0.8"/>
<line x1="865.40" y1="746.90" x2="865.40" y2="748.90" stroke="#777" stroke-width="0.8"/>
<line x1="873.09" y1="746.90" x2="873.09" y2="748.90" stroke="#777" stroke-width="0.8"/>
<line x1="880.78" y1="746.90" x2="880.78" y2="750.10" stroke="#4a4a4a" stroke-width="1.0"/>
<line x1="888.47" y1="746.90" x2="888.47" y2="748.90" stroke="#777" stroke-width="0.8"/>
<line x1="896.16" y1="746.90" x2="896.16" y2="748.90" stroke="#777" stroke-width="0.8"/>
<line x1="903.86" y1="746.90" x2="903.86" y2="748.90" stroke="#777" stroke-width="0.8"/>
<line x1="911.55" y1="746.90" x2="911.55" y2="748.90" stroke="#777" stroke-width="0.8"/>
<line x1="919.24" y1="746.90" x2="919.24" y2="750.10" stroke="#4a4a4a" stroke-width="1.0"/>
<line x1="926.93" y1="746.90" x2="926.93" y2="748.90" stroke="#777" stroke-width="0.8"/>
<line x1="934.62" y1="746.90" x2="934.62" y2="748.90" stroke="#777" stroke-width="0.8"/>
<line x1="942.32" y1="746.90" x2="942.32" y2="748.90" stroke="#777" stroke-width="0.8"/>
<line x1="950.01" y1="746.90" x2="950.01" y2="748.90" stroke="#777" stroke-width="0.8"/>
<line x1="957.70" y1="746.90" x2="957.70" y2="750.10" stroke="#4a4a4a" stroke-width="1.0"/>
<line x1="965.39" y1="746.90" x2="965.39" y2="748.90" stroke="#777" stroke-width="0.8"/>
<line x1="973.08" y1="746.90" x2="973.08" y2="748.90" stroke="#777" stroke-width="0.8"/>
<line x1="980.78" y1="746.90" x2="980.78" y2="748.90" stroke="#777" stroke-width="0.8"/>
<line x1="988.47" y1="746.90" x2="988.47" y2="748.90" stroke="#777" stroke-width="0.8"/>
<line x1="996.16" y1="746.90" x2="996.16" y2="750.10" stroke="#4a4a4a" stroke-width="1.0"/>
<line x1="1003.85" y1="746.90" x2="1003.85" y2="748.90" stroke="#777" stroke-width="0.8"/>
<line x1="1011.54" y1="746.90" x2="1011.54" y2="748.90" stroke="#777" stroke-width="0.8"/>
<line x1="1019.24" y1="746.90" x2="1019.24" y2="748.90" stroke="#777" stroke-width="0.8"/>
<line x1="1026.93" y1="746.90" x2="1026.93" y2="748.90" stroke="#777" stroke-width="0.8"/>
<line x1="1034.62" y1="746.90" x2="1034.62" y2="750.10" stroke="#4a4a4a" stroke-width="1.0"/>
<line x1="1042.31" y1="746.90" x2="1042.31" y2="748.90" stroke="#777" stroke-width="0.8"/>
<line x1="1050.00" y1="746.90" x2="1050.00" y2="748.90" stroke="#777" stroke-width="0.8"/>
<line x1="1057.70" y1="746.90" x2="1057.70" y2="748.90" stroke="#777" stroke-width="0.8"/>
<line x1="1065.39" y1="746.90" x2="1065.39" y2="748.90" stroke="#777" stroke-width="0.8"/>
<line x1="1073.08" y1="746.90" x2="1073.08" y2="750.10" stroke="#4a4a4a" stroke-width="1.0"/>
<line x1="1080.77" y1="746.90" x2="1080.77" y2="748.90" stroke="#777" stroke-width="0.8"/>
<line x1="1088.46" y1="746.90" x2="1088.46" y2="748.90" stroke="#777" stroke-width="0.8"/>
<line x1="1096.16" y1="746.90" x2="1096.16" y2="748.90" stroke="#777" stroke-width="0.8"/>
<line x1="1103.85" y1="746.90" x2="1103.85" y2="748.90" stroke="#777" stroke-width="0.8"/>
<line x1="1111.54" y1="746.90" x2="1111.54" y2="750.10" stroke="#4a4a4a" stroke-width="1.0"/>
<line x1="1119.23" y1="746.90" x2="1119.23" y2="748.90" stroke="#777" stroke-width="0.8"/>
<line x1="1126.92" y1="746.90" x2="1126.92" y2="748.90" stroke="#777" stroke-width="0.8"/>
<line x1="1134.62" y1="746.90" x2="1134.62" y2="748.90" stroke="#777" stroke-width="0.8"/>
<line x1="1142.31" y1="746.90" x2="1142.31" y2="748.90" stroke="#777" stroke-width="0.8"/>
<line x1="1150.00" y1="746.90" x2="1150.00" y2="750.10" stroke="#4a4a4a" stroke-width="1.0"/>
<text x="755.7" y="766.4" font-size="16.5" textLength="28.2" lengthAdjust="spacingAndGlyphs" fill="#383838" stroke="#383838" stroke-width="0.3">100</text>
<text x="794.0" y="766.4" font-size="16.5" textLength="28.2" lengthAdjust="spacingAndGlyphs" fill="#383838" stroke="#383838" stroke-width="0.3">150</text>
<text x="837.8" y="766.4" font-size="16.5" textLength="28.2" lengthAdjust="spacingAndGlyphs" fill="#383838" stroke="#383838" stroke-width="0.3">200</text>
<text x="875.7" y="766.4" font-size="16.5" textLength="28.2" lengthAdjust="spacingAndGlyphs" fill="#383838" stroke="#383838" stroke-width="0.3">250</text>
<text x="913.5" y="766.4" font-size="16.5" textLength="28.2" lengthAdjust="spacingAndGlyphs" fill="#383838" stroke="#383838" stroke-width="0.3">300</text>
<text x="952.2" y="766.4" font-size="16.5" textLength="28.2" lengthAdjust="spacingAndGlyphs" fill="#383838" stroke="#383838" stroke-width="0.3">350</text>
<text x="989.9" y="766.4" font-size="16.5" textLength="28.2" lengthAdjust="spacingAndGlyphs" fill="#383838" stroke="#383838" stroke-width="0.3">400</text>
<text x="1028.4" y="766.4" font-size="16.5" textLength="28.2" lengthAdjust="spacingAndGlyphs" fill="#383838" stroke="#383838" stroke-width="0.3">450</text>
<text x="1066.2" y="766.4" font-size="16.5" textLength="28.2" lengthAdjust="spacingAndGlyphs" fill="#383838" stroke="#383838" stroke-width="0.3">500</text>
<text x="1104.1" y="766.4" font-size="16.5" textLength="28.2" lengthAdjust="spacingAndGlyphs" fill="#383838" stroke="#383838" stroke-width="0.3">550</text>
<text x="1136.8" y="766.4" font-size="16.5" textLength="28.2" lengthAdjust="spacingAndGlyphs" fill="#383838" stroke="#383838" stroke-width="0.3">600</text>
<text fill="#111" font-weight="bold" transform="translate(715.1,653.6) rotate(-90)"><tspan x="0.3" y="0.0" font-size="17.4" textLength="86.0" lengthAdjust="spacingAndGlyphs">Intensity</tspan><tspan font-size="4"> </tspan><tspan x="90.2" y="0.0" font-size="17.4" textLength="34.2" lengthAdjust="spacingAndGlyphs">(x 10</tspan><tspan x="125.2" y="-5.6" font-size="10.5" textLength="5.0" lengthAdjust="spacingAndGlyphs">5</tspan><tspan x="131.6" y="0.0" font-size="17.4" textLength="6.6" lengthAdjust="spacingAndGlyphs">)</tspan></text>
<text x="714.2" y="449.0" font-size="26" textLength="16.0" lengthAdjust="spacingAndGlyphs" fill="#222" stroke="#222" stroke-width="0.3">C</text>
<text fill="#111" font-weight="bold"><tspan x="939.0" y="797.6" font-size="19" textLength="20.2" lengthAdjust="spacingAndGlyphs" stroke="#111" stroke-width="0.3">m</tspan><tspan x="958.1" y="800.8" font-size="25.5" textLength="7.8" lengthAdjust="spacingAndGlyphs" stroke="#111" stroke-width="0.2">/</tspan><tspan x="965.6" y="797.6" font-size="19" textLength="8.2" lengthAdjust="spacingAndGlyphs" stroke="#111" stroke-width="0.3">z</tspan></text>
<text x="963.4" y="457.8" font-size="20.0" textLength="33.5" lengthAdjust="spacingAndGlyphs" fill="#222" stroke="#222" stroke-width="0.3">Cys</text>
<text fill="#222"><tspan x="963.0" y="488.4" font-size="20.0" textLength="62.4" lengthAdjust="spacingAndGlyphs" stroke="#222" stroke-width="0.3">[M+H]</tspan><tspan x="1027.5" y="481.0" font-size="10" textLength="6.4" lengthAdjust="spacingAndGlyphs" stroke="#222" stroke-width="0.2">+</tspan><tspan x="1034.2" y="488.4" font-size="20.0" textLength="12.4" lengthAdjust="spacingAndGlyphs" stroke="#222" stroke-width="0.3">=</tspan><tspan font-size="4"> </tspan><tspan x="1052.4" y="488.4" font-size="20.0" textLength="69.7" lengthAdjust="spacingAndGlyphs" stroke="#222" stroke-width="0.3">122.03</tspan></text>
<text fill="#222"><tspan x="963.0" y="518.2" font-size="20.0" textLength="71.7" lengthAdjust="spacingAndGlyphs" stroke="#222" stroke-width="0.3">[M+Na]</tspan><tspan x="1039.2" y="510.8" font-size="10" textLength="6.4" lengthAdjust="spacingAndGlyphs" stroke="#222" stroke-width="0.2">+</tspan><tspan x="1044.9" y="518.2" font-size="20.0" textLength="12.4" lengthAdjust="spacingAndGlyphs" stroke="#222" stroke-width="0.3">=</tspan><tspan font-size="4"> </tspan><tspan x="1064.9" y="518.2" font-size="20.0" textLength="69.7" lengthAdjust="spacingAndGlyphs" stroke="#222" stroke-width="0.3">144.01</tspan></text>
<defs><linearGradient id="gC" gradientUnits="userSpaceOnUse" x1="0" y1="458" x2="0" y2="748"><stop offset="0.000" stop-color="#a4a4a4"/><stop offset="0.455" stop-color="#8a8a8a"/><stop offset="0.662" stop-color="#444"/><stop offset="0.834" stop-color="#262626"/><stop offset="1.000" stop-color="#222"/></linearGradient></defs>
<defs><path id="tr5" d="M766.00,747.00 L766.00,746.40 L766.25,746.40 L766.50,746.40 L766.75,746.40 L767.00,746.40 L767.25,746.41 L767.50,746.42 L767.75,746.40 L768.00,746.34 L768.25,746.08 L768.50,745.69 L768.75,745.04 L769.00,743.92 L769.25,742.17 L769.50,738.78 L769.70,734.00 L769.75,735.45 L770.00,740.47 L770.25,742.81 L770.50,743.80 L770.75,743.96 L771.00,743.50 L771.25,744.53 L771.50,745.21 L771.75,745.66 L772.00,745.98 L772.25,746.19 L772.50,746.35 L772.75,746.47 L773.00,746.57 L773.25,746.52 L773.50,746.47 L773.75,746.41 L774.00,746.35 L774.25,746.40 L774.50,746.46 L774.75,746.52 L775.00,746.57 L775.25,746.58 L775.50,746.59 L775.75,746.59 L776.00,746.60 L776.25,746.61 L776.50,746.61 L776.75,746.62 L777.00,746.63 L777.25,746.60 L777.50,746.57 L777.75,746.54 L778.00,746.52 L778.25,746.55 L778.50,746.59 L778.75,746.63 L779.00,746.66 L779.25,746.59 L779.50,746.51 L779.75,746.43 L780.00,746.32 L780.25,746.29 L780.50,746.12 L780.75,745.61 L781.00,744.24 L781.25,740.63 L781.50,731.59 L781.75,708.86 L782.00,651.61 L782.25,507.37 L782.30,458.80 L782.50,607.97 L782.75,688.77 L783.00,718.29 L783.25,725.27 L783.30,725.00 L783.50,733.01 L783.75,737.02 L784.00,736.81 L784.20,734.00 L784.25,735.30 L784.50,739.93 L784.75,742.43 L785.00,743.71 L785.25,744.50 L785.50,744.79 L785.75,744.70 L786.00,744.23 L786.20,743.40 L786.25,743.65 L786.50,744.58 L786.75,745.14 L787.00,745.44 L787.25,745.61 L787.50,745.60 L787.75,745.41 L788.00,745.00 L788.25,745.54 L788.50,745.89 L788.75,746.12 L789.00,746.26 L789.25,746.37 L789.50,746.45 L789.75,746.51 L790.00,746.54 L790.25,746.57 L790.50,746.58 L790.75,746.59 L791.00,746.60 L791.25,746.50 L791.50,746.40 L791.75,746.30 L792.00,746.19 L792.25,746.32 L792.50,746.44 L792.75,746.57 L793.00,746.69 L793.25,746.68 L793.50,746.68 L793.75,746.67 L794.00,746.66 L794.25,746.62 L794.50,746.59 L794.75,746.56 L795.00,746.53 L795.25,746.45 L795.50,746.36 L795.75,746.28 L796.00,746.19 L796.25,746.30 L796.50,746.41 L796.75,746.50 L797.00,746.56 L797.25,746.42 L797.50,746.10 L797.75,745.33 L798.00,743.44 L798.25,738.63 L798.50,726.70 L798.75,696.79 L799.00,621.56 L799.20,485.20 L799.25,529.05 L799.50,658.69 L799.75,708.79 L800.00,726.26 L800.25,728.72 L800.30,728.00 L800.50,735.11 L800.75,739.24 L801.00,740.18 L801.25,738.60 L801.40,736.40 L801.50,738.40 L801.75,741.75 L802.00,743.53 L802.25,744.27 L802.50,744.30 L802.75,743.70 L803.00,742.29 L803.25,739.85 L803.40,737.50 L803.50,739.24 L803.75,742.23 L804.00,743.92 L804.25,744.67 L804.50,744.94 L804.75,744.87 L805.00,744.50 L805.25,745.17 L805.50,745.65 L805.75,745.99 L806.00,746.25 L806.25,746.36 L806.50,746.43 L806.75,746.48 L807.00,746.52 L807.25,746.54 L807.50,746.56 L807.75,746.58 L808.00,746.59 L808.25,746.59 L808.50,746.59 L808.75,746.59 L809.00,746.58 L809.25,746.60 L809.50,746.61 L809.75,746.63 L810.00,746.64 L810.25,746.64 L810.50,746.64 L810.75,746.63 L811.00,746.63 L811.25,746.62 L811.50,746.61 L811.75,746.60 L812.00,746.59 L812.25,746.54 L812.50,746.48 L812.75,746.43 L813.00,746.38 L813.25,746.36 L813.50,746.34 L813.75,746.32 L814.00,746.28 L814.25,746.32 L814.50,746.28 L814.75,746.08 L815.00,745.50 L815.25,743.93 L815.50,740.36 L815.75,732.19 L816.00,713.46 L816.20,682.10 L816.25,691.95 L816.50,722.58 L816.75,735.73 L817.00,741.19 L817.25,743.19 L817.50,743.40 L817.75,744.72 L818.00,745.39 L818.25,745.66 L818.50,745.69 L818.75,745.54 L819.00,745.20 L819.25,745.67 L819.50,745.98 L819.75,746.20 L820.00,746.36 L820.25,746.40 L820.50,746.41 L820.75,746.41 L821.00,746.40 L821.25,746.47 L821.50,746.54 L821.75,746.60 L822.00,746.67 L822.25,746.66 L822.50,746.64 L822.75,746.63 L823.00,746.62 L823.25,746.62 L823.50,746.63 L823.75,746.64 L824.00,746.65 L824.25,746.66 L824.50,746.67 L824.75,746.68 L825.00,746.69 L825.25,746.69 L825.50,746.70 L825.75,746.70 L826.00,746.70 L826.25,746.58 L826.50,746.46 L826.75,746.34 L827.00,746.22 L827.25,746.23 L827.50,746.24 L827.75,746.25 L828.00,746.26 L828.25,746.36 L828.50,746.46 L828.75,746.55 L829.00,746.65 L829.25,746.61 L829.50,746.57 L829.75,746.52 L830.00,746.48 L830.25,746.47 L830.50,746.47 L830.75,746.46 L831.00,746.46 L831.25,746.50 L831.50,746.54 L831.75,746.58 L832.00,746.62 L832.25,746.64 L832.50,746.66 L832.75,746.68 L833.00,746.70 L833.25,746.63 L833.50,746.57 L833.75,746.50 L834.00,746.44 L834.25,746.36 L834.50,746.29 L834.75,746.21 L835.00,746.13 L835.25,746.24 L835.50,746.35 L835.75,746.45 L836.00,746.56 L836.25,746.50 L836.50,746.43 L836.75,746.37 L837.00,746.30 L837.25,746.27 L837.50,746.23 L837.75,746.20 L838.00,746.16 L838.25,746.23 L838.50,746.30 L838.75,746.37 L839.00,746.44 L839.25,746.48 L839.50,746.51 L839.75,746.54 L840.00,746.57 L840.25,746.55 L840.50,746.54 L840.75,746.52 L841.00,746.51 L841.25,746.45 L841.50,746.39 L841.75,746.33 L842.00,746.27 L842.25,746.36 L842.50,746.45 L842.75,746.54 L843.00,746.63 L843.25,746.57 L843.50,746.50 L843.75,746.44 L844.00,746.38 L844.25,746.39 L844.50,746.41 L844.75,746.42 L845.00,746.44 L845.25,746.47 L845.50,746.50 L845.75,746.53 L846.00,746.56 L846.25,746.47 L846.50,746.39 L846.75,746.31 L847.00,746.23 L847.25,746.20 L847.50,746.17 L847.75,746.14 L848.00,746.11 L848.25,746.22 L848.50,746.34 L848.75,746.45 L849.00,746.56 L849.25,746.55 L849.50,746.54 L849.75,746.52 L850.00,746.51 L850.25,746.53 L850.50,746.54 L850.75,746.56 L851.00,746.58 L851.25,746.50 L851.50,746.42 L851.75,746.35 L852.00,746.27 L852.25,746.29 L852.50,746.31 L852.75,746.32 L853.00,746.34 L853.25,746.35 L853.50,746.37 L853.75,746.38 L854.00,746.40 L854.25,746.35 L854.50,746.31 L854.75,746.26 L855.00,746.22 L855.25,746.29 L855.50,746.36 L855.75,746.42 L856.00,746.49 L856.25,746.53 L856.50,746.57 L856.75,746.60 L857.00,746.64 L857.25,746.64 L857.50,746.64 L857.75,746.64 L858.00,746.64 L858.25,746.62 L858.50,746.60 L858.75,746.58 L859.00,746.56 L859.25,746.56 L859.50,746.57 L859.75,746.57 L860.00,746.57 L860.25,746.59 L860.50,746.60 L860.75,746.62 L861.00,746.63 L861.25,746.57 L861.50,746.51 L861.75,746.45 L862.00,746.38 L862.25,746.27 L862.50,746.15 L862.75,746.03 L863.00,745.92 L863.25,746.10 L863.50,746.29 L863.75,746.47 L864.00,746.66 L864.25,746.65 L864.50,746.65 L864.75,746.64 L865.00,746.63 L865.25,746.57 L865.50,746.51 L865.75,746.45 L866.00,746.39 L866.25,746.46 L866.50,746.53 L866.75,746.60 L867.00,746.67 L867.25,746.64 L867.50,746.61 L867.75,746.58 L868.00,746.55 L868.25,746.56 L868.50,746.57 L868.75,746.58 L869.00,746.60 L869.25,746.53 L869.50,746.45 L869.75,746.38 L870.00,746.31 L870.25,746.34 L870.50,746.38 L870.75,746.41 L871.00,746.44 L871.25,746.44 L871.50,746.44 L871.75,746.45 L872.00,746.45 L872.25,746.49 L872.50,746.54 L872.75,746.58 L873.00,746.63 L873.25,746.52 L873.50,746.40 L873.75,746.29 L874.00,746.18 L874.25,746.26 L874.50,746.34 L874.75,746.43 L875.00,746.51 L875.25,746.49 L875.50,746.46 L875.75,746.44 L876.00,746.41 L876.25,746.47 L876.50,746.53 L876.75,746.58 L877.00,746.64 L877.25,746.64 L877.50,746.64 L877.75,746.63 L878.00,746.63 L878.25,746.62 L878.50,746.61 L878.75,746.60 L879.00,746.59 L879.25,746.60 L879.50,746.61 L879.75,746.62 L880.00,746.63 L880.25,746.50 L880.50,746.36 L880.75,746.23 L881.00,746.09 L881.25,746.17 L881.50,746.25 L881.75,746.32 L882.00,746.40 L882.25,746.39 L882.50,746.39 L882.75,746.38 L883.00,746.38 L883.25,746.41 L883.50,746.43 L883.75,746.46 L884.00,746.49 L884.25,746.50 L884.50,746.51 L884.75,746.52 L885.00,746.53 L885.25,746.50 L885.50,746.47 L885.75,746.44 L886.00,746.40 L886.25,746.37 L886.50,746.34 L886.75,746.31 L887.00,746.28 L887.25,746.34 L887.50,746.40 L887.75,746.45 L888.00,746.50 L888.25,746.41 L888.50,746.30 L888.75,746.16 L889.00,746.00 L889.25,745.78 L889.50,745.51 L889.75,745.15 L890.00,744.69 L890.25,744.25 L890.50,743.61 L890.70,742.90 L890.75,743.15 L891.00,744.19 L891.25,744.79 L891.50,745.22 L891.75,745.51 L892.00,745.71 L892.25,745.96 L892.50,746.16 L892.75,746.32 L893.00,746.45 L893.25,746.42 L893.50,746.37 L893.75,746.31 L894.00,746.24 L894.25,746.35 L894.50,746.45 L894.75,746.55 L895.00,746.65 L895.25,746.61 L895.50,746.57 L895.75,746.53 L896.00,746.49 L896.25,746.54 L896.50,746.58 L896.75,746.63 L897.00,746.67 L897.25,746.65 L897.50,746.63 L897.75,746.61 L898.00,746.58 L898.25,746.59 L898.50,746.60 L898.75,746.61 L899.00,746.62 L899.25,746.51 L899.50,746.39 L899.75,746.28 L900.00,746.17 L900.25,746.17 L900.50,746.17 L900.75,746.17 L901.00,746.18 L901.25,746.22 L901.50,746.27 L901.75,746.31 L902.00,746.36 L902.25,746.42 L902.50,746.48 L902.75,746.54 L903.00,746.59 L903.25,746.55 L903.50,746.51 L903.75,746.46 L904.00,746.40 L904.25,746.42 L904.50,746.43 L904.75,746.41 L905.00,746.37 L905.25,746.18 L905.50,745.92 L905.75,745.55 L906.00,745.04 L906.25,744.36 L906.40,743.80 L906.50,743.97 L906.75,744.10 L907.00,743.77 L907.25,742.83 L907.50,741.00 L907.75,743.16 L908.00,744.49 L908.25,745.20 L908.50,745.60 L908.75,745.81 L909.00,745.90 L909.25,746.07 L909.50,746.19 L909.75,746.29 L910.00,746.37 L910.25,746.37 L910.50,746.37 L910.75,746.37 L911.00,746.36 L911.25,746.43 L911.50,746.50 L911.75,746.57 L912.00,746.64 L912.25,746.56 L912.50,746.48 L912.75,746.40 L913.00,746.32 L913.25,746.36 L913.50,746.40 L913.75,746.44 L914.00,746.48 L914.25,746.45 L914.50,746.41 L914.75,746.37 L915.00,746.34 L915.25,746.36 L915.50,746.39 L915.75,746.42 L916.00,746.44 L916.25,746.43 L916.50,746.42 L916.75,746.41 L917.00,746.40 L917.25,746.46 L917.50,746.52 L917.75,746.58 L918.00,746.64 L918.25,746.59 L918.50,746.53 L918.75,746.47 L919.00,746.42 L919.25,746.48 L919.50,746.53 L919.75,746.59 L920.00,746.65 L920.25,746.57 L920.50,746.48 L920.75,746.39 L921.00,746.30 L921.25,746.35 L921.50,746.39 L921.75,746.43 L922.00,746.45 L922.25,746.30 L922.50,746.13 L922.75,745.92 L923.00,745.65 L923.25,745.48 L923.50,745.18 L923.75,744.64 L923.80,744.50 L924.00,744.61 L924.25,744.27 L924.50,743.42 L924.75,741.83 L925.00,739.10 L925.25,741.78 L925.50,743.32 L925.75,744.15 L926.00,744.48 L926.25,744.53 L926.30,744.50 L926.50,745.09 L926.75,745.63 L927.00,746.01 L927.25,746.23 L927.50,746.38 L927.75,746.48 L928.00,746.55 L928.25,746.51 L928.50,746.44 L928.75,746.37 L929.00,746.29 L929.25,746.29 L929.50,746.27 L929.75,746.26 L930.00,746.24 L930.25,746.33 L930.50,746.42 L930.75,746.51 L931.00,746.59 L931.25,746.55 L931.50,746.51 L931.75,746.47 L932.00,746.43 L932.25,746.41 L932.50,746.39 L932.75,746.36 L933.00,746.34 L933.25,746.38 L933.50,746.42 L933.75,746.46 L934.00,746.49 L934.25,746.47 L934.50,746.45 L934.75,746.43 L935.00,746.41 L935.25,746.47 L935.50,746.54 L935.75,746.60 L936.00,746.66 L936.25,746.56 L936.50,746.45 L936.75,746.34 L937.00,746.23 L937.25,746.28 L937.50,746.32 L937.75,746.37 L938.00,746.42 L938.25,746.39 L938.50,746.36 L938.75,746.34 L939.00,746.31 L939.25,746.34 L939.50,746.37 L939.75,746.41 L940.00,746.44 L940.25,746.43 L940.50,746.43 L940.75,746.43 L941.00,746.42 L941.25,746.34 L941.50,746.25 L941.75,746.17 L942.00,746.08 L942.25,746.21 L942.50,746.34 L942.75,746.48 L943.00,746.61 L943.25,746.55 L943.50,746.50 L943.75,746.45 L944.00,746.40 L944.25,746.46 L944.50,746.53 L944.75,746.60 L945.00,746.67 L945.25,746.61 L945.50,746.56 L945.75,746.51 L946.00,746.46 L946.25,746.42 L946.50,746.37 L946.75,746.33 L947.00,746.29 L947.25,746.33 L947.50,746.36 L947.75,746.40 L948.00,746.44 L948.25,746.48 L948.50,746.51 L948.75,746.55 L949.00,746.59 L949.25,746.58 L949.50,746.57 L949.75,746.57 L950.00,746.56 L950.25,746.50 L950.50,746.44 L950.75,746.39 L951.00,746.33 L951.25,746.42 L951.50,746.50 L951.75,746.59 L952.00,746.68 L952.25,746.65 L952.50,746.61 L952.75,746.58 L953.00,746.55 L953.25,746.57 L953.50,746.59 L953.75,746.62 L954.00,746.64 L954.25,746.57 L954.50,746.51 L954.75,746.44 L955.00,746.38 L955.25,746.42 L955.50,746.47 L955.75,746.52 L956.00,746.57 L956.25,746.54 L956.50,746.52 L956.75,746.50 L957.00,746.47 L957.25,746.45 L957.50,746.43 L957.75,746.41 L958.00,746.39 L958.25,746.39 L958.50,746.39 L958.75,746.40 L959.00,746.40 L959.25,746.41 L959.50,746.42 L959.75,746.43 L960.00,746.44 L960.25,746.43 L960.50,746.42 L960.75,746.41 L961.00,746.40 L961.25,746.44 L961.50,746.48 L961.75,746.52 L962.00,746.55 L962.25,746.58 L962.50,746.61 L962.75,746.64 L963.00,746.67 L963.25,746.60 L963.50,746.52 L963.75,746.44 L964.00,746.36 L964.25,746.41 L964.50,746.47 L964.75,746.52 L965.00,746.57 L965.25,746.58 L965.50,746.60 L965.75,746.61 L966.00,746.63 L966.25,746.55 L966.50,746.48 L966.75,746.40 L967.00,746.33 L967.25,746.41 L967.50,746.49 L967.75,746.57 L968.00,746.65 L968.25,746.65 L968.50,746.65 L968.75,746.65 L969.00,746.65 L969.25,746.62 L969.50,746.59 L969.75,746.55 L970.00,746.52 L970.25,746.56 L970.50,746.60 L970.75,746.63 L971.00,746.67 L971.25,746.64 L971.50,746.62 L971.75,746.60 L972.00,746.57 L972.25,746.59 L972.50,746.61 L972.75,746.63 L973.00,746.66 L973.25,746.65 L973.50,746.65 L973.75,746.64 L974.00,746.64 L974.25,746.62 L974.50,746.60 L974.75,746.58 L975.00,746.56 L975.25,746.59 L975.50,746.62 L975.75,746.65 L976.00,746.68 L976.25,746.67 L976.50,746.66 L976.75,746.65 L977.00,746.64 L977.25,746.59 L977.50,746.55 L977.75,746.51 L978.00,746.46 L978.25,746.51 L978.50,746.55 L978.75,746.60 L979.00,746.65 L979.25,746.60 L979.50,746.55 L979.75,746.50 L980.00,746.45 L980.25,746.45 L980.50,746.46 L980.75,746.47 L981.00,746.48 L981.25,746.53 L981.50,746.57 L981.75,746.62 L982.00,746.66 L982.25,746.53 L982.50,746.41 L982.75,746.29 L983.00,746.16 L983.25,746.23 L983.50,746.30 L983.75,746.37 L984.00,746.45 L984.25,746.51 L984.50,746.57 L984.75,746.64 L985.00,746.70 L985.25,746.69 L985.50,746.68 L985.75,746.67 L986.00,746.65 L986.25,746.60 L986.50,746.55 L986.75,746.50 L987.00,746.45 L987.25,746.42 L987.50,746.40 L987.75,746.37 L988.00,746.35 L988.25,746.36 L988.50,746.37 L988.75,746.38 L989.00,746.39 L989.25,746.45 L989.50,746.52 L989.75,746.59 L990.00,746.65 L990.25,746.65 L990.50,746.65 L990.75,746.65 L991.00,746.65 L991.25,746.64 L991.50,746.63 L991.75,746.62 L992.00,746.62 L992.25,746.62 L992.50,746.62 L992.75,746.62 L993.00,746.63 L993.25,746.59 L993.50,746.55 L993.75,746.52 L994.00,746.48 L994.25,746.52 L994.50,746.56 L994.75,746.60 L995.00,746.64 L995.25,746.51 L995.50,746.39 L995.75,746.27 L996.00,746.15 L996.25,746.21 L996.50,746.27 L996.75,746.33 L997.00,746.39 L997.25,746.44 L997.50,746.49 L997.75,746.54 L998.00,746.59 L998.25,746.56 L998.50,746.53 L998.75,746.50 L999.00,746.46 L999.25,746.49 L999.50,746.51 L999.75,746.54 L1000.00,746.56 L1000.25,746.51 L1000.50,746.47 L1000.75,746.42 L1001.00,746.37 L1001.25,746.43 L1001.50,746.49 L1001.75,746.55 L1002.00,746.61 L1002.25,746.60 L1002.50,746.60 L1002.75,746.60 L1003.00,746.60 L1003.25,746.56 L1003.50,746.52 L1003.75,746.48 L1004.00,746.43 L1004.25,746.46 L1004.50,746.48 L1004.75,746.50 L1005.00,746.52 L1005.25,746.40 L1005.50,746.29 L1005.75,746.18 L1006.00,746.07 L1006.25,746.18 L1006.50,746.30 L1006.75,746.41 L1007.00,746.53 L1007.25,746.52 L1007.50,746.52 L1007.75,746.52 L1008.00,746.52 L1008.25,746.53 L1008.50,746.54 L1008.75,746.54 L1009.00,746.55 L1009.25,746.59 L1009.50,746.62 L1009.75,746.66 L1010.00,746.69 L1010.25,746.69 L1010.50,746.69 L1010.75,746.69 L1011.00,746.69 L1011.25,746.63 L1011.50,746.57 L1011.75,746.50 L1012.00,746.44 L1012.25,746.45 L1012.50,746.46 L1012.75,746.47 L1013.00,746.48 L1013.25,746.50 L1013.50,746.52 L1013.75,746.53 L1014.00,746.55 L1014.25,746.53 L1014.50,746.52 L1014.75,746.50 L1015.00,746.47 L1015.25,746.36 L1015.50,746.25 L1015.75,746.11 L1016.00,745.96 L1016.25,745.85 L1016.50,745.71 L1016.75,745.53 L1017.00,745.30 L1017.25,745.57 L1017.50,745.80 L1017.75,745.98 L1018.00,746.14 L1018.25,746.22 L1018.50,746.29 L1018.75,746.34 L1019.00,746.38 L1019.25,746.44 L1019.50,746.51 L1019.75,746.57 L1020.00,746.62 L1020.25,746.59 L1020.50,746.55 L1020.75,746.51 L1021.00,746.48 L1021.25,746.47 L1021.50,746.47 L1021.75,746.46 L1022.00,746.45 L1022.25,746.50 L1022.50,746.55 L1022.75,746.61 L1023.00,746.66 L1023.25,746.53 L1023.50,746.41 L1023.75,746.29 L1024.00,746.16 L1024.25,746.26 L1024.50,746.36 L1024.75,746.46 L1025.00,746.57 L1025.25,746.56 L1025.50,746.55 L1025.75,746.55 L1026.00,746.54 L1026.25,746.55 L1026.50,746.57 L1026.75,746.58 L1027.00,746.59 L1027.25,746.54 L1027.50,746.50 L1027.75,746.45 L1028.00,746.41 L1028.25,746.47 L1028.50,746.54 L1028.75,746.60 L1029.00,746.67 L1029.25,746.63 L1029.50,746.59 L1029.75,746.55 L1030.00,746.51 L1030.25,746.53 L1030.50,746.55 L1030.75,746.57 L1031.00,746.59 L1031.25,746.54 L1031.50,746.50 L1031.75,746.46 L1032.00,746.41 L1032.25,746.48 L1032.50,746.54 L1032.75,746.61 L1033.00,746.67 L1033.25,746.66 L1033.50,746.65 L1033.75,746.64 L1034.00,746.64 L1034.25,746.58 L1034.50,746.53 L1034.75,746.48 L1035.00,746.42 L1035.25,746.43 L1035.50,746.44 L1035.75,746.44 L1036.00,746.45 L1036.25,746.45 L1036.50,746.45 L1036.75,746.46 L1037.00,746.46 L1037.25,746.47 L1037.50,746.48 L1037.75,746.49 L1038.00,746.50 L1038.25,746.54 L1038.50,746.57 L1038.75,746.60 L1039.00,746.63 L1039.25,746.62 L1039.50,746.62 L1039.75,746.61 L1040.00,746.61 L1040.25,746.52 L1040.50,746.42 L1040.75,746.33 L1041.00,746.24 L1041.25,746.28 L1041.50,746.32 L1041.75,746.35 L1042.00,746.39 L1042.25,746.46 L1042.50,746.53 L1042.75,746.60 L1043.00,746.67 L1043.25,746.66 L1043.50,746.64 L1043.75,746.63 L1044.00,746.61 L1044.25,746.49 L1044.50,746.37 L1044.75,746.24 L1045.00,746.12 L1045.25,746.26 L1045.50,746.39 L1045.75,746.53 L1046.00,746.66 L1046.25,746.63 L1046.50,746.59 L1046.75,746.55 L1047.00,746.52 L1047.25,746.56 L1047.50,746.60 L1047.75,746.64 L1048.00,746.68 L1048.25,746.65 L1048.50,746.62 L1048.75,746.59 L1049.00,746.56 L1049.25,746.54 L1049.50,746.52 L1049.75,746.51 L1050.00,746.49 L1050.25,746.54 L1050.50,746.59 L1050.75,746.64 L1051.00,746.69 L1051.25,746.63 L1051.50,746.58 L1051.75,746.53 L1052.00,746.48 L1052.25,746.49 L1052.50,746.50 L1052.75,746.51 L1053.00,746.52 L1053.25,746.51 L1053.50,746.51 L1053.75,746.50 L1054.00,746.49 L1054.25,746.48 L1054.50,746.46 L1054.75,746.45 L1055.00,746.43 L1055.25,746.50 L1055.50,746.56 L1055.75,746.63 L1056.00,746.69 L1056.25,746.66 L1056.50,746.63 L1056.75,746.60 L1057.00,746.57 L1057.25,746.60 L1057.50,746.63 L1057.75,746.66 L1058.00,746.69 L1058.25,746.64 L1058.50,746.59 L1058.75,746.54 L1059.00,746.49 L1059.25,746.49 L1059.50,746.48 L1059.75,746.48 L1060.00,746.48 L1060.25,746.52 L1060.50,746.57 L1060.75,746.61 L1061.00,746.65 L1061.25,746.64 L1061.50,746.63 L1061.75,746.62 L1062.00,746.61 L1062.25,746.56 L1062.50,746.51 L1062.75,746.46 L1063.00,746.41 L1063.25,746.42 L1063.50,746.44 L1063.75,746.45 L1064.00,746.47 L1064.25,746.51 L1064.50,746.56 L1064.75,746.60 L1065.00,746.65 L1065.25,746.66 L1065.50,746.67 L1065.75,746.68 L1066.00,746.69 L1066.25,746.61 L1066.50,746.53 L1066.75,746.45 L1067.00,746.37 L1067.25,746.40 L1067.50,746.44 L1067.75,746.48 L1068.00,746.51 L1068.25,746.55 L1068.50,746.59 L1068.75,746.62 L1069.00,746.66 L1069.25,746.53 L1069.50,746.41 L1069.75,746.29 L1070.00,746.16 L1070.25,746.26 L1070.50,746.36 L1070.75,746.45 L1071.00,746.55 L1071.25,746.53 L1071.50,746.50 L1071.75,746.48 L1072.00,746.46 L1072.25,746.47 L1072.50,746.48 L1072.75,746.49 L1073.00,746.50 L1073.25,746.44 L1073.50,746.38 L1073.75,746.33 L1074.00,746.27 L1074.25,746.37 L1074.50,746.46 L1074.75,746.56 L1075.00,746.66 L1075.25,746.60 L1075.50,746.53 L1075.75,746.47 L1076.00,746.41 L1076.25,746.44 L1076.50,746.48 L1076.75,746.52 L1077.00,746.56 L1077.25,746.57 L1077.50,746.58 L1077.75,746.60 L1078.00,746.61 L1078.25,746.55 L1078.50,746.48 L1078.75,746.42 L1079.00,746.36 L1079.25,746.31 L1079.50,746.26 L1079.75,746.20 L1080.00,746.15 L1080.25,746.27 L1080.50,746.40 L1080.75,746.52 L1081.00,746.64 L1081.25,746.61 L1081.50,746.57 L1081.75,746.54 L1082.00,746.51 L1082.25,746.52 L1082.50,746.52 L1082.75,746.53 L1083.00,746.54 L1083.25,746.55 L1083.50,746.57 L1083.75,746.58 L1084.00,746.60 L1084.25,746.59 L1084.50,746.58 L1084.75,746.58 L1085.00,746.57 L1085.25,746.57 L1085.50,746.57 L1085.75,746.57 L1086.00,746.56 L1086.25,746.49 L1086.50,746.41 L1086.75,746.33 L1087.00,746.25 L1087.25,746.25 L1087.50,746.26 L1087.75,746.26 L1088.00,746.26 L1088.25,746.33 L1088.50,746.39 L1088.75,746.45 L1089.00,746.51 L1089.25,746.53 L1089.50,746.56 L1089.75,746.58 L1090.00,746.61 L1090.25,746.57 L1090.50,746.53 L1090.75,746.49 L1091.00,746.45 L1091.25,746.49 L1091.50,746.53 L1091.75,746.56 L1092.00,746.60 L1092.25,746.52 L1092.50,746.44 L1092.75,746.36 L1093.00,746.28 L1093.25,746.35 L1093.50,746.43 L1093.75,746.51 L1094.00,746.58 L1094.25,746.59 L1094.50,746.60 L1094.75,746.62 L1095.00,746.63 L1095.25,746.57 L1095.50,746.51 L1095.75,746.45 L1096.00,746.39 L1096.25,746.45 L1096.50,746.52 L1096.75,746.59 L1097.00,746.66 L1097.25,746.61 L1097.50,746.57 L1097.75,746.52 L1098.00,746.48 L1098.25,746.53 L1098.50,746.59 L1098.75,746.64 L1099.00,746.70 L1099.25,746.65 L1099.50,746.60 L1099.75,746.56 L1100.00,746.51 L1100.25,746.49 L1100.50,746.47 L1100.75,746.45 L1101.00,746.43 L1101.25,746.49 L1101.50,746.55 L1101.75,746.61 L1102.00,746.66 L1102.25,746.65 L1102.50,746.64 L1102.75,746.63 L1103.00,746.61 L1103.25,746.62 L1103.50,746.63 L1103.75,746.63 L1104.00,746.64 L1104.25,746.54 L1104.50,746.44 L1104.75,746.34 L1105.00,746.24 L1105.25,746.33 L1105.50,746.42 L1105.75,746.51 L1106.00,746.60 L1106.25,746.54 L1106.50,746.47 L1106.75,746.41 L1107.00,746.34 L1107.25,746.33 L1107.50,746.32 L1107.75,746.31 L1108.00,746.30 L1108.25,746.39 L1108.50,746.47 L1108.75,746.55 L1109.00,746.64 L1109.25,746.43 L1109.50,746.22 L1109.75,746.02 L1110.00,745.81 L1110.25,746.01 L1110.50,746.20 L1110.75,746.39 L1111.00,746.58 L1111.25,746.60 L1111.50,746.63 L1111.75,746.65 L1112.00,746.68 L1112.25,746.66 L1112.50,746.65 L1112.75,746.64 L1113.00,746.62 L1113.25,746.62 L1113.50,746.61 L1113.75,746.61 L1114.00,746.60 L1114.25,746.59 L1114.50,746.58 L1114.75,746.57 L1115.00,746.55 L1115.25,746.50 L1115.50,746.44 L1115.75,746.38 L1116.00,746.32 L1116.25,746.30 L1116.50,746.27 L1116.75,746.24 L1117.00,746.21 L1117.25,746.33 L1117.50,746.44 L1117.75,746.55 L1118.00,746.67 L1118.25,746.64 L1118.50,746.62 L1118.75,746.59 L1119.00,746.57 L1119.25,746.57 L1119.50,746.56 L1119.75,746.56 L1120.00,746.55 L1120.25,746.45 L1120.50,746.36 L1120.75,746.26 L1121.00,746.16 L1121.25,746.24 L1121.50,746.33 L1121.75,746.41 L1122.00,746.50 L1122.25,746.48 L1122.50,746.46 L1122.75,746.44 L1123.00,746.42 L1123.25,746.46 L1123.50,746.50 L1123.75,746.54 L1124.00,746.57 L1124.25,746.59 L1124.50,746.60 L1124.75,746.61 L1125.00,746.62 L1125.25,746.63 L1125.50,746.64 L1125.75,746.64 L1126.00,746.65 L1126.25,746.65 L1126.50,746.65 L1126.75,746.65 L1127.00,746.65 L1127.25,746.61 L1127.50,746.58 L1127.75,746.54 L1128.00,746.51 L1128.25,746.52 L1128.50,746.53 L1128.75,746.54 L1129.00,746.55 L1129.25,746.57 L1129.50,746.58 L1129.75,746.60 L1130.00,746.62 L1130.25,746.63 L1130.50,746.64 L1130.75,746.65 L1131.00,746.66 L1131.25,746.58 L1131.50,746.50 L1131.75,746.42 L1132.00,746.33 L1132.25,746.38 L1132.50,746.42 L1132.75,746.47 L1133.00,746.51 L1133.25,746.54 L1133.50,746.56 L1133.75,746.58 L1134.00,746.60 L1134.25,746.60 L1134.50,746.61 L1134.75,746.61 L1135.00,746.61 L1135.25,746.58 L1135.50,746.55 L1135.75,746.53 L1136.00,746.50 L1136.25,746.53 L1136.50,746.56 L1136.75,746.58 L1137.00,746.61 L1137.25,746.57 L1137.50,746.54 L1137.75,746.50 L1138.00,746.47 L1138.25,746.48 L1138.50,746.50 L1138.75,746.51 L1139.00,746.53 L1139.25,746.52 L1139.50,746.50 L1139.75,746.49 L1140.00,746.48 L1140.25,746.51 L1140.50,746.54 L1140.75,746.58 L1141.00,746.61 L1141.25,746.54 L1141.50,746.47 L1141.75,746.40 L1142.00,746.34 L1142.25,746.39 L1142.50,746.45 L1142.75,746.51 L1143.00,746.57 L1143.25,746.55 L1143.50,746.53 L1143.75,746.51 L1144.00,746.49 L1144.25,746.47 L1144.50,746.45 L1144.75,746.43 L1145.00,746.41 L1145.25,746.35 L1145.50,746.28 L1145.75,746.22 L1146.00,746.15 L1146.25,746.28 L1146.50,746.42 L1146.75,746.55 L1147.00,746.68 L1147.25,746.60 L1147.50,746.53 L1147.75,746.45 L1148.00,746.37 L1148.25,746.42 L1148.50,746.48 L1148.75,746.53 L1149.00,746.58 L1149.25,746.61 L1149.50,746.63 L1149.50,747.00 Z" stroke-linejoin="round"/></defs>
<use href="#tr5" fill="#1a1a1a" stroke="url(#gC)" stroke-width="1.5"/>
<text x="773.5" y="454.0" font-size="13.8" textLength="36.0" lengthAdjust="spacingAndGlyphs" fill="#383838" stroke="#383838" stroke-width="0.2">122.1</text>
<text x="791.7" y="482.4" font-size="13.8" textLength="36.0" lengthAdjust="spacingAndGlyphs" fill="#383838" stroke="#383838" stroke-width="0.2">143.9</text>
<text x="808.6" y="678.3" font-size="13.5" textLength="36.0" lengthAdjust="spacingAndGlyphs" fill="#444" stroke="#444" stroke-width="0.2">165.8</text>
<text x="917.8" y="737.1" font-size="13.5" textLength="35.5" lengthAdjust="spacingAndGlyphs" fill="#444" stroke="#444" stroke-width="0.2">308.7</text>
</svg>
</body></html>
